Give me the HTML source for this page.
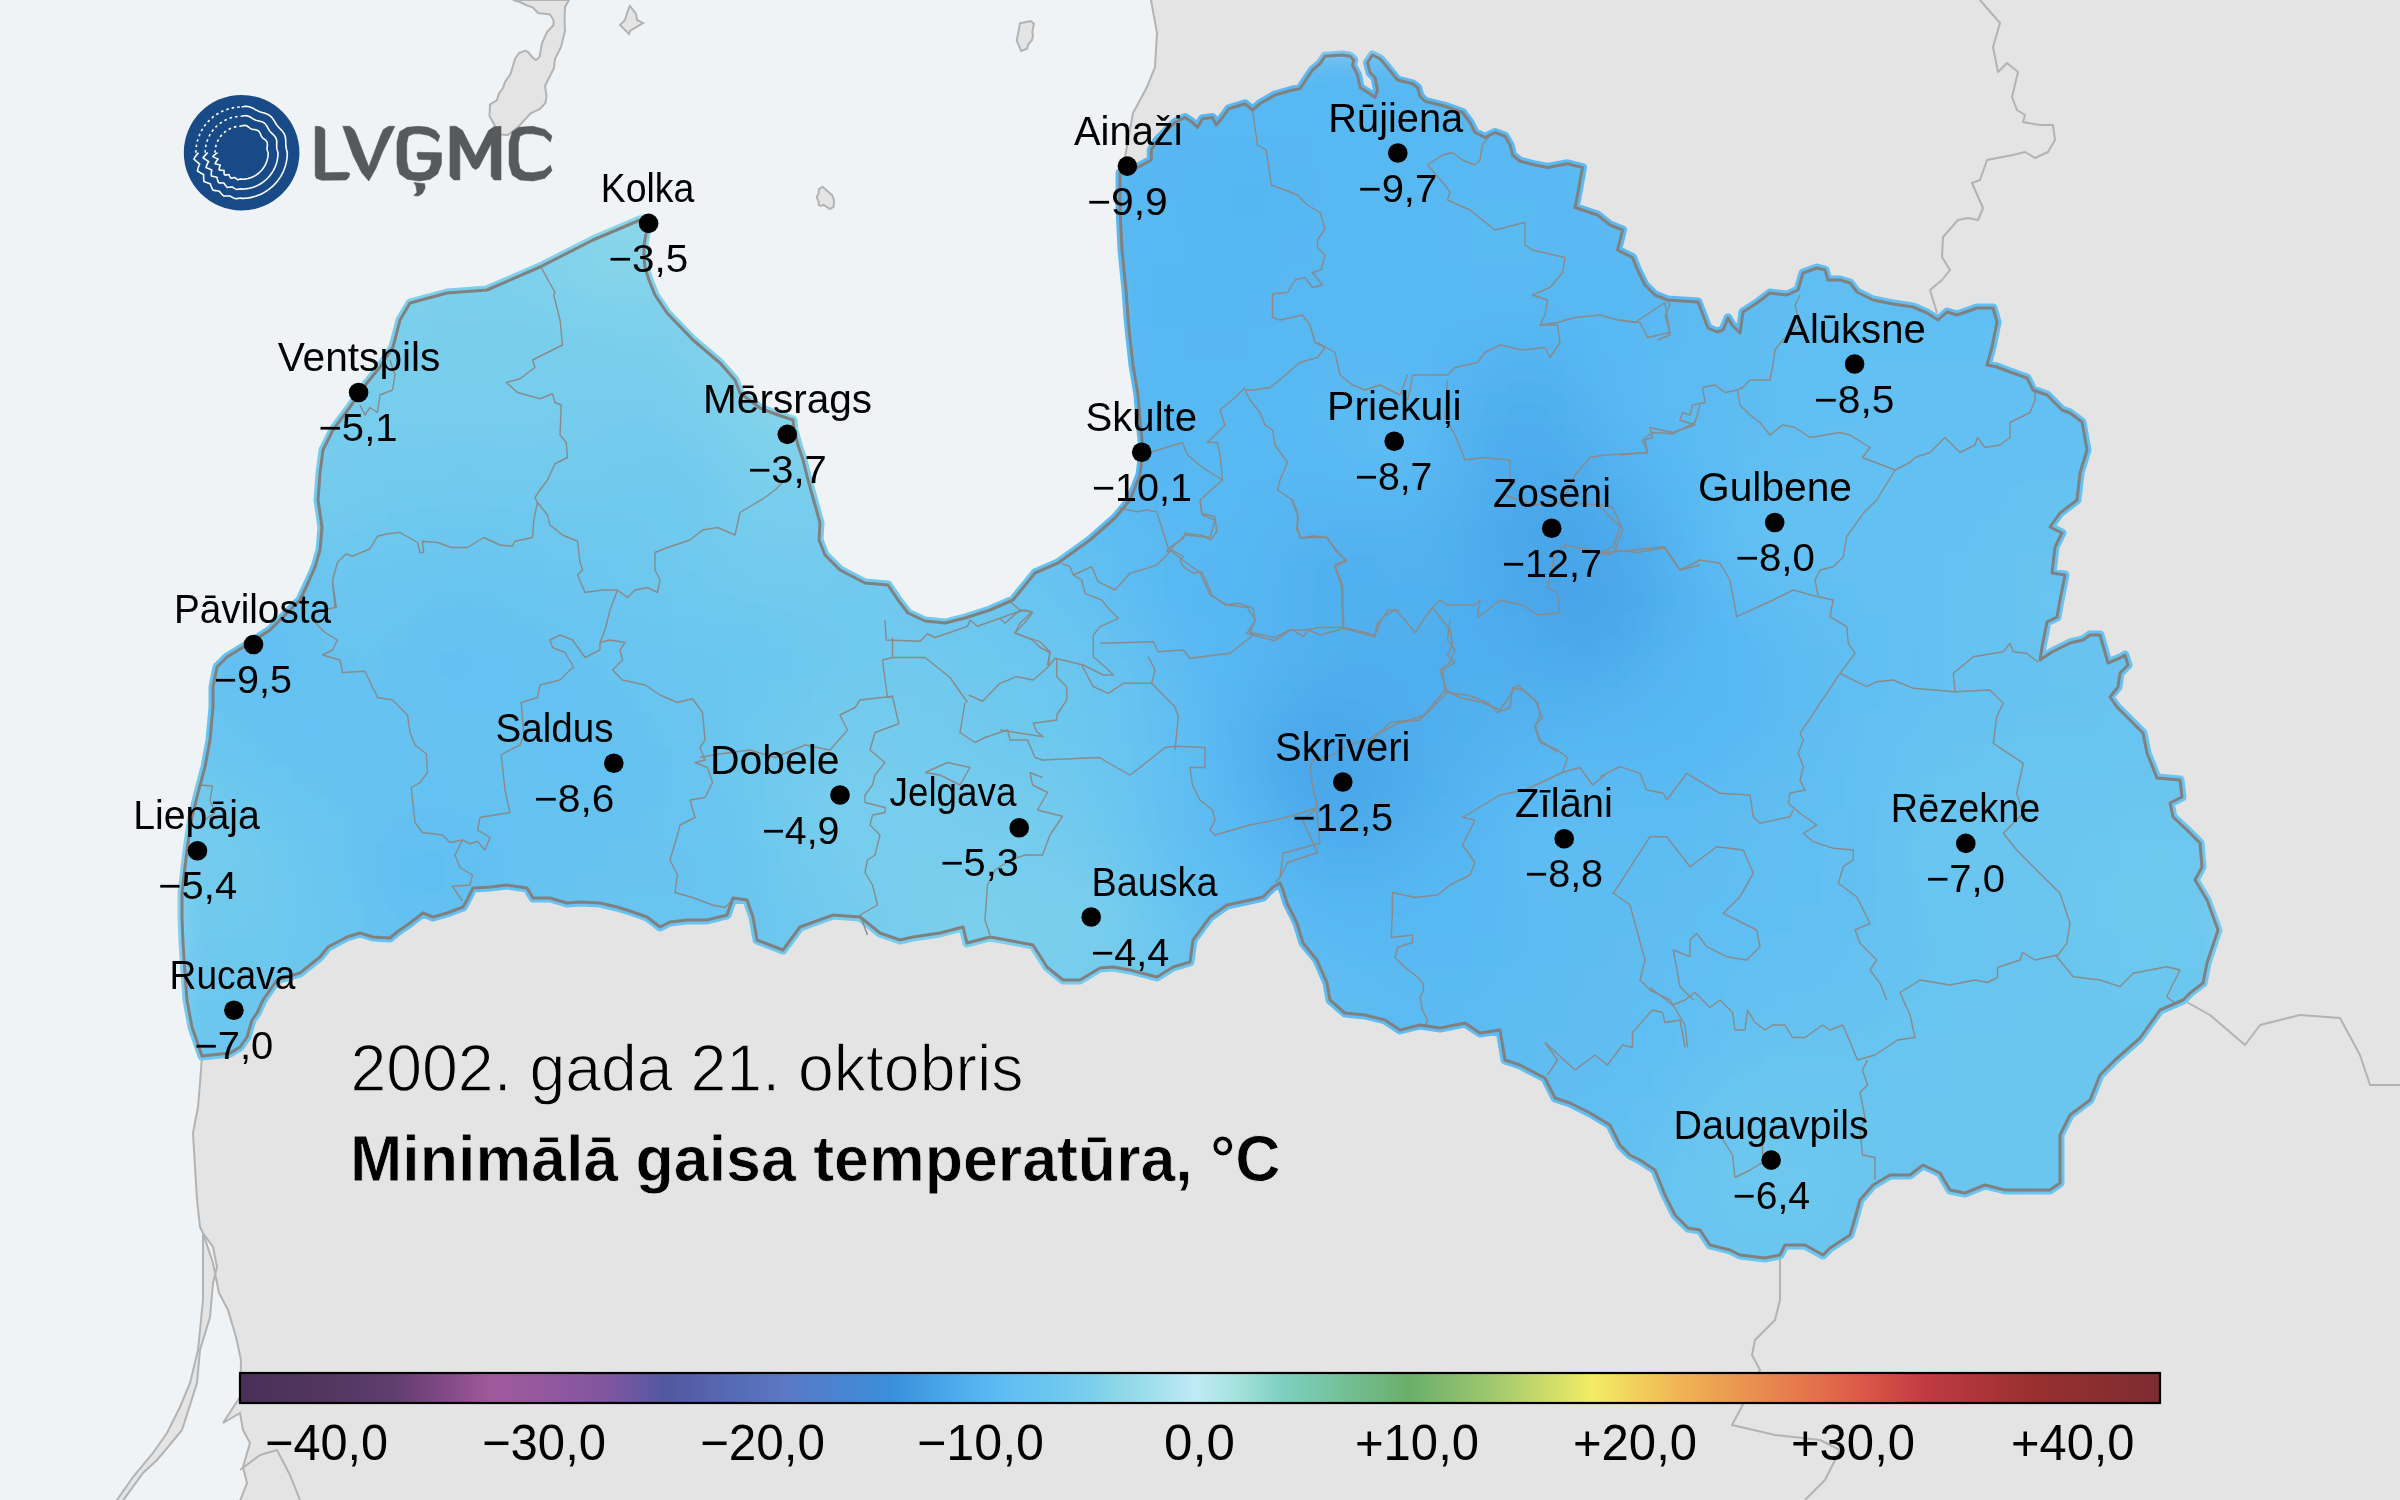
<!DOCTYPE html><html><head><meta charset="utf-8"><style>html,body{margin:0;padding:0;background:#e4e4e4}svg{display:block;will-change:transform}.f rect{width:33px;height:33px}text{font-family:"Liberation Sans",sans-serif;-webkit-font-smoothing:antialiased}</style></head><body>
<svg width="2400" height="1500" viewBox="0 0 2400 1500">
<defs><filter id="bl" x="-5%" y="-5%" width="110%" height="110%"><feGaussianBlur stdDeviation="19.2"/></filter>
<mask id="lvm" maskUnits="userSpaceOnUse" x="0" y="0" width="2400" height="1500"><polygon points="648,219 646,234 644,245 644,257 645,268 649,280 655,295 667,313 693,340 720,363 735,380 740,393 760,408 778,415 793,420 794,430 798,445 803,460 808,480 815,505 820,523 819,540 825,555 840,570 865,583 888,585 898,600 908,613 925,621 945,623 965,618 990,610 1013,600 1035,573 1058,563 1090,540 1115,518 1130,500 1140,475 1143,450 1140,420 1138,395 1133,365 1130,338 1128,318 1126,290 1122,250 1120,207 1120,173 1137.5,167.5 1151.25,160 1151.25,150 1157.5,140 1175,122.5 1185,117.5 1192.5,122.5 1197.5,127.5 1202.5,118.75 1212.5,117.5 1216.25,125 1222.5,117.5 1228.75,108.75 1245,103.75 1252.5,110 1260,103.75 1275,95 1292.5,90 1300,88.75 1312.5,70 1320,63.75 1325,56.25 1342.5,55 1350,56.25 1353.75,60 1352.5,65 1357.5,75 1360,87.5 1370,93.75 1375,97.5 1377.5,90 1375,77.5 1370,72.5 1367.5,62.5 1372.5,55 1380,58.75 1387.5,67.5 1397.5,80 1412.5,83.75 1417.5,87.5 1420,96.25 1425,101.25 1435,103.75 1445,106.25 1462.5,112.5 1470,122.5 1475,132.5 1485,137.5 1495,132.5 1505,136.25 1510,145 1512.5,155 1520,161.25 1535,165 1547.5,167.5 1567.5,163.75 1582.5,167.5 1577.5,195 1575,207.5 1582.5,210 1597.5,215 1610,225 1622.5,230 1617.5,250 1632.5,257.5 1637.5,270 1645,285 1655,295 1667.5,300 1698,302 1708,328 1717,332 1723,330 1728,318 1732,325 1740,333 1743,312 1757,303 1770,293 1787,295 1798,290 1803,273 1817,268 1825,270 1828,280 1840,280 1850,283 1857,292 1873,300 1893,304 1913,307 1927,313 1938,320 1947,312 1957,315 1977,308 1993,308 1997,322 1992,347 1987,365 1997,367 2010,372 2027,378 2033,390 2047,395 2062,410 2070,413 2082,422 2087,450 2080,473 2077,500 2060,513 2050,527 2062,533 2055,547 2052,573 2065,575 2060,600 2057,617 2047,622 2042,647 2040,660 2052,652 2070,643 2083,640 2090,635 2100,635 2108,663 2120,658 2125,655 2128,665 2120,673 2118,687 2110,697 2117,707 2130,720 2143,733 2147,753 2157,778 2180,780 2182,797 2170,803 2173,817 2187,830 2200,843 2202,867 2195,880 2207,900 2218,930 2207,963 2203,983 2190,993 2183,1000 2160,1010 2140,1038 2115,1060 2100,1075 2090,1100 2070,1115 2060,1135 2060,1183 2050,1190 2005,1190 1985,1185 1965,1193 1950,1190 1940,1173 1923,1165 1910,1175 1890,1175 1873,1185 1860,1200 1853,1225 1850,1235 1830,1248 1823,1255 1805,1245 1785,1245 1780,1255 1765,1258 1740,1255 1730,1250 1710,1245 1700,1230 1688,1228 1675,1215 1665,1195 1655,1170 1640,1160 1630,1155 1620,1145 1610,1125 1590,1113 1570,1103 1555,1098 1545,1078 1520,1065 1505,1060 1500,1030 1480,1033 1465,1023 1440,1028 1420,1025 1400,1030 1385,1020 1365,1015 1345,1013 1330,1000 1327,983 1317,960 1303,943 1297,923 1287,903 1283,890 1280,883 1273,887 1263,897 1250,900 1227,905 1210,917 1193,940 1190,962 1173,967 1157,977 1130,970 1113,967 1100,968 1080,980 1063,980 1047,967 1033,945 1007,940 990,937 967,943 963,927 940,933 913,937 900,940 880,933 860,917 833,915 800,927 783,950 770,945 757,940 753,917 747,900 733,898 727,915 707,920 687,920 670,922 660,927 647,917 633,912 617,907 600,903 580,902 567,903 550,898 533,898 527,888 507,885 490,887 473,888 467,900 463,907 447,913 433,917 423,913 410,923 397,932 390,938 373,937 360,933 347,937 328,947 320,957 300,973 277,980 263,1000 257,1013 252,1020 247,1037 240,1047 230,1053 202,1056 192,1027 187,1000 185,973 183,943 182,917 182,893 185,867 188,843 192,817 198,793 205,767 210,740 213,707 213,687 217,667 227,657 250,643 270,630 287,613 300,600 308,583 315,567 320,550 322,527 318,500 320,473 323,450 333,430 350,407 367,383 380,367 393,347 400,320 410,303 447,293 487,290 540,267 593,240 640,220" fill="#fff" stroke="#fff" stroke-width="9" stroke-linejoin="round"/></mask></defs>
<rect width="2400" height="1500" fill="#e4e4e4"/>
<polygon points="-5,-5 1150,-5 1151,0 1157,33 1155,67 1147,87 1133,113 1125,157 1120,175 1200,300 1200,700 900,800 300,850 215,1000 202,1056 200,1083 198,1107 193,1133 195,1167 197,1200 200,1227 203,1233 203,1300 198,1350 190,1383 180,1407 167,1433 153,1453 133,1477 117,1500 113,1505 -5,1505" fill="#eff3f6" stroke="#b3b3b3" stroke-width="2"/>
<polygon points="203,1233 213,1263 219,1293 228,1310 236,1337 241,1360 240,1397 223,1423 240,1413 243,1430 250,1443 243,1467 247,1483 238,1506 119,1506 143,1473 157,1460 163,1453 182,1430 197,1383 200,1350 210,1317 213,1283 217,1267 213,1247" fill="#eff3f6" stroke="#b3b3b3" stroke-width="2"/>
<polygon points="513,0 520,2 526,5 533,7.5 538,13 550,14.5 553.5,20 553.5,25 547,32 542,43 539.5,57 536,60 533,58 528,52 525.5,50.5 519,53 515,59 510.5,74 505,82 503,88 499,93.5 497,100 490,104.5 489.5,116 494,124 496,129 500,134.5 508,135 518,127 531,113 540,109 545.5,103 546.5,96 545,86 554,68 555,59 561,47 565,31 564.5,19 565,7 569,0" fill="#e4e4e4" stroke="#b3b3b3" stroke-width="2"/>
<polygon points="630,6 636,14 637,20 643,23 630,31 629,34 620,25 625,20 628,10" fill="#e4e4e4" stroke="#b3b3b3" stroke-width="2"/>
<polygon points="822.5,186.7 832.3,195.3 834,200 833.7,206.7 830,209 823.3,204.7 821,206 818.7,205 818.7,201.7 816.7,197.3 818.7,193.3 818.7,189.3" fill="#e4e4e4" stroke="#b3b3b3" stroke-width="2"/>
<polygon points="1020,23.3 1030.7,21 1034,23.7 1032.3,32.3 1033,35.3 1032,40 1028.3,44.3 1027,48.7 1021.3,51 1016.7,40.7" fill="#e4e4e4" stroke="#b3b3b3" stroke-width="2"/>
<polyline points="1980,0 2000,23 1993,47 1998,72 2007,63 2018,72 2012,97 2017,110 2025,115 2023,122 2040,125 2053,125 2055,140 2048,152 2035,158 2025,152 2013,155 1987,160 1980,180 1972,183 1983,208 1978,220 1968,218 1958,220 1943,237 1942,257 1950,270 1942,280 1930,290 1937,313" fill="none" stroke="#b3b3b3" stroke-width="2" stroke-linejoin="round"/>
<polyline points="2183,1000 2210,1015 2245,1045 2260,1025 2300,1015 2340,1018 2360,1055 2370,1085 2400,1085" fill="none" stroke="#b3b3b3" stroke-width="2" stroke-linejoin="round"/>
<polyline points="1780,1258 1780,1300 1775,1320 1755,1340 1752,1355 1760,1370 1740,1410 1732,1425 1775,1435 1820,1440 1840,1450 1825,1480 1805,1500" fill="none" stroke="#b3b3b3" stroke-width="2" stroke-linejoin="round"/>
<polyline points="240,1470 260,1455 277,1450 290,1475 300,1500" fill="none" stroke="#b3b3b3" stroke-width="2" stroke-linejoin="round"/>
<g mask="url(#lvm)"><g class="f" filter="url(#bl)"><rect x="1216" y="40" fill="#5abaf2"/><rect x="1248" y="40" fill="#5ab9f2"/><rect x="1280" y="40" fill="#5ab9f2"/><rect x="1312" y="40" fill="#5ab9f2"/><rect x="1344" y="40" fill="#5ab9f2"/><rect x="1376" y="40" fill="#5ab9f2"/><rect x="1408" y="40" fill="#5ab9f2"/><rect x="1440" y="40" fill="#5ab9f2"/><rect x="1152" y="72" fill="#59b9f2"/><rect x="1184" y="72" fill="#59b9f2"/><rect x="1216" y="72" fill="#59b9f2"/><rect x="1248" y="72" fill="#59b9f2"/><rect x="1280" y="72" fill="#59b9f2"/><rect x="1312" y="72" fill="#59b9f2"/><rect x="1344" y="72" fill="#59b8f2"/><rect x="1376" y="72" fill="#59b8f2"/><rect x="1408" y="72" fill="#59b9f2"/><rect x="1440" y="72" fill="#59b9f2"/><rect x="1472" y="72" fill="#5ab9f2"/><rect x="1504" y="72" fill="#5abaf2"/><rect x="1120" y="104" fill="#58b8f2"/><rect x="1152" y="104" fill="#58b8f2"/><rect x="1184" y="104" fill="#58b8f2"/><rect x="1216" y="104" fill="#58b8f2"/><rect x="1248" y="104" fill="#58b8f2"/><rect x="1280" y="104" fill="#58b8f2"/><rect x="1312" y="104" fill="#59b8f2"/><rect x="1344" y="104" fill="#58b8f2"/><rect x="1376" y="104" fill="#58b8f2"/><rect x="1408" y="104" fill="#59b8f2"/><rect x="1440" y="104" fill="#59b9f2"/><rect x="1472" y="104" fill="#5ab9f2"/><rect x="1504" y="104" fill="#5ab9f2"/><rect x="1536" y="104" fill="#5abaf2"/><rect x="1568" y="104" fill="#5bbaf2"/><rect x="1088" y="136" fill="#58b8f2"/><rect x="1120" y="136" fill="#57b7f2"/><rect x="1152" y="136" fill="#58b7f2"/><rect x="1184" y="136" fill="#58b7f2"/><rect x="1216" y="136" fill="#57b7f2"/><rect x="1248" y="136" fill="#57b7f2"/><rect x="1280" y="136" fill="#58b7f2"/><rect x="1312" y="136" fill="#58b8f2"/><rect x="1344" y="136" fill="#58b8f2"/><rect x="1376" y="136" fill="#58b8f2"/><rect x="1408" y="136" fill="#58b8f2"/><rect x="1440" y="136" fill="#59b8f2"/><rect x="1472" y="136" fill="#5ab9f2"/><rect x="1504" y="136" fill="#5ab9f2"/><rect x="1536" y="136" fill="#5abaf2"/><rect x="1568" y="136" fill="#5abaf2"/><rect x="1600" y="136" fill="#5bbaf2"/><rect x="608" y="168" fill="#86d4ea"/><rect x="640" y="168" fill="#87d4ea"/><rect x="1056" y="168" fill="#5ab9f2"/><rect x="1088" y="168" fill="#58b8f2"/><rect x="1120" y="168" fill="#57b7f2"/><rect x="1152" y="168" fill="#58b7f2"/><rect x="1184" y="168" fill="#57b7f2"/><rect x="1216" y="168" fill="#57b6f2"/><rect x="1248" y="168" fill="#57b6f2"/><rect x="1280" y="168" fill="#57b7f2"/><rect x="1312" y="168" fill="#58b8f2"/><rect x="1344" y="168" fill="#58b8f2"/><rect x="1376" y="168" fill="#58b8f2"/><rect x="1408" y="168" fill="#59b8f2"/><rect x="1440" y="168" fill="#59b9f2"/><rect x="1472" y="168" fill="#5ab9f2"/><rect x="1504" y="168" fill="#5ab9f2"/><rect x="1536" y="168" fill="#5ab9f2"/><rect x="1568" y="168" fill="#5abaf2"/><rect x="1600" y="168" fill="#5abaf2"/><rect x="512" y="200" fill="#7ed1eb"/><rect x="544" y="200" fill="#82d2eb"/><rect x="576" y="200" fill="#85d4ea"/><rect x="608" y="200" fill="#88d5e9"/><rect x="640" y="200" fill="#89d5e9"/><rect x="672" y="200" fill="#86d4ea"/><rect x="1056" y="200" fill="#5bbaf2"/><rect x="1088" y="200" fill="#59b9f2"/><rect x="1120" y="200" fill="#58b8f2"/><rect x="1152" y="200" fill="#58b8f2"/><rect x="1184" y="200" fill="#57b7f2"/><rect x="1216" y="200" fill="#57b6f2"/><rect x="1248" y="200" fill="#56b6f2"/><rect x="1280" y="200" fill="#57b7f2"/><rect x="1312" y="200" fill="#58b8f2"/><rect x="1344" y="200" fill="#58b8f2"/><rect x="1376" y="200" fill="#59b8f2"/><rect x="1408" y="200" fill="#59b9f2"/><rect x="1440" y="200" fill="#5ab9f2"/><rect x="1472" y="200" fill="#5abaf2"/><rect x="1504" y="200" fill="#5abaf2"/><rect x="1536" y="200" fill="#5ab9f2"/><rect x="1568" y="200" fill="#5ab9f2"/><rect x="1600" y="200" fill="#5ab9f2"/><rect x="1632" y="200" fill="#5bbaf2"/><rect x="416" y="232" fill="#7bd0ec"/><rect x="448" y="232" fill="#7acfec"/><rect x="480" y="232" fill="#7bcfec"/><rect x="512" y="232" fill="#7ed1eb"/><rect x="544" y="232" fill="#82d2eb"/><rect x="576" y="232" fill="#85d4ea"/><rect x="608" y="232" fill="#87d4ea"/><rect x="640" y="232" fill="#88d5ea"/><rect x="672" y="232" fill="#85d3ea"/><rect x="1056" y="232" fill="#5dbbf2"/><rect x="1088" y="232" fill="#5abaf2"/><rect x="1120" y="232" fill="#59b8f2"/><rect x="1152" y="232" fill="#58b8f2"/><rect x="1184" y="232" fill="#57b7f2"/><rect x="1216" y="232" fill="#57b7f2"/><rect x="1248" y="232" fill="#57b7f2"/><rect x="1280" y="232" fill="#58b7f2"/><rect x="1312" y="232" fill="#58b8f2"/><rect x="1344" y="232" fill="#59b8f2"/><rect x="1376" y="232" fill="#59b8f2"/><rect x="1408" y="232" fill="#59b9f2"/><rect x="1440" y="232" fill="#5ab9f2"/><rect x="1472" y="232" fill="#5abaf2"/><rect x="1504" y="232" fill="#5abaf2"/><rect x="1536" y="232" fill="#5ab9f2"/><rect x="1568" y="232" fill="#5ab9f2"/><rect x="1600" y="232" fill="#5ab9f2"/><rect x="1632" y="232" fill="#5abaf2"/><rect x="1664" y="232" fill="#5bbaf2"/><rect x="1760" y="232" fill="#5ebcf2"/><rect x="1792" y="232" fill="#5fbdf2"/><rect x="1824" y="232" fill="#5fbef2"/><rect x="1856" y="232" fill="#60bef2"/><rect x="352" y="264" fill="#7cd0ec"/><rect x="384" y="264" fill="#7dd0eb"/><rect x="416" y="264" fill="#7cd0ec"/><rect x="448" y="264" fill="#7acfec"/><rect x="480" y="264" fill="#7acfec"/><rect x="512" y="264" fill="#7cd0ec"/><rect x="544" y="264" fill="#80d1eb"/><rect x="576" y="264" fill="#83d3ea"/><rect x="608" y="264" fill="#84d3ea"/><rect x="640" y="264" fill="#83d3ea"/><rect x="672" y="264" fill="#81d2eb"/><rect x="1088" y="264" fill="#5bbaf2"/><rect x="1120" y="264" fill="#59b8f2"/><rect x="1152" y="264" fill="#57b7f2"/><rect x="1184" y="264" fill="#57b7f2"/><rect x="1216" y="264" fill="#57b7f2"/><rect x="1248" y="264" fill="#57b7f2"/><rect x="1280" y="264" fill="#58b8f2"/><rect x="1312" y="264" fill="#59b8f2"/><rect x="1344" y="264" fill="#59b8f2"/><rect x="1376" y="264" fill="#59b8f2"/><rect x="1408" y="264" fill="#59b9f2"/><rect x="1440" y="264" fill="#59b9f2"/><rect x="1472" y="264" fill="#5ab9f2"/><rect x="1504" y="264" fill="#5ab9f2"/><rect x="1536" y="264" fill="#59b9f2"/><rect x="1568" y="264" fill="#59b9f2"/><rect x="1600" y="264" fill="#59b9f2"/><rect x="1632" y="264" fill="#5ab9f2"/><rect x="1664" y="264" fill="#5bbaf2"/><rect x="1696" y="264" fill="#5cbbf2"/><rect x="1728" y="264" fill="#5dbcf2"/><rect x="1760" y="264" fill="#5ebdf2"/><rect x="1792" y="264" fill="#5fbef2"/><rect x="1824" y="264" fill="#60bef2"/><rect x="1856" y="264" fill="#60bff2"/><rect x="1888" y="264" fill="#61bff2"/><rect x="1920" y="264" fill="#61bff2"/><rect x="1952" y="264" fill="#61bff2"/><rect x="1984" y="264" fill="#61bff2"/><rect x="2016" y="264" fill="#61bff2"/><rect x="352" y="296" fill="#7bcfec"/><rect x="384" y="296" fill="#7cd0ec"/><rect x="416" y="296" fill="#7bcfec"/><rect x="448" y="296" fill="#7acfec"/><rect x="480" y="296" fill="#79cfec"/><rect x="512" y="296" fill="#7acfec"/><rect x="544" y="296" fill="#7cd0ec"/><rect x="576" y="296" fill="#7ed1eb"/><rect x="608" y="296" fill="#7fd1eb"/><rect x="640" y="296" fill="#7ed1eb"/><rect x="672" y="296" fill="#7dd0eb"/><rect x="704" y="296" fill="#7dd0eb"/><rect x="1088" y="296" fill="#5cbbf2"/><rect x="1120" y="296" fill="#59b9f2"/><rect x="1152" y="296" fill="#57b7f2"/><rect x="1184" y="296" fill="#57b7f2"/><rect x="1216" y="296" fill="#57b7f2"/><rect x="1248" y="296" fill="#58b7f2"/><rect x="1280" y="296" fill="#58b8f2"/><rect x="1312" y="296" fill="#59b8f2"/><rect x="1344" y="296" fill="#59b9f2"/><rect x="1376" y="296" fill="#59b8f2"/><rect x="1408" y="296" fill="#59b8f2"/><rect x="1440" y="296" fill="#58b8f2"/><rect x="1472" y="296" fill="#58b8f2"/><rect x="1504" y="296" fill="#58b8f2"/><rect x="1536" y="296" fill="#58b7f2"/><rect x="1568" y="296" fill="#58b8f2"/><rect x="1600" y="296" fill="#59b9f2"/><rect x="1632" y="296" fill="#5ab9f2"/><rect x="1664" y="296" fill="#5bbaf2"/><rect x="1696" y="296" fill="#5cbbf2"/><rect x="1728" y="296" fill="#5dbcf2"/><rect x="1760" y="296" fill="#5fbdf2"/><rect x="1792" y="296" fill="#60bef2"/><rect x="1824" y="296" fill="#61bff2"/><rect x="1856" y="296" fill="#61bff2"/><rect x="1888" y="296" fill="#61bff2"/><rect x="1920" y="296" fill="#61bff2"/><rect x="1952" y="296" fill="#61bff2"/><rect x="1984" y="296" fill="#61bff2"/><rect x="2016" y="296" fill="#61bff2"/><rect x="320" y="328" fill="#78ceec"/><rect x="352" y="328" fill="#79ceec"/><rect x="384" y="328" fill="#79cfec"/><rect x="416" y="328" fill="#79ceec"/><rect x="448" y="328" fill="#79ceec"/><rect x="480" y="328" fill="#79ceec"/><rect x="512" y="328" fill="#79ceec"/><rect x="544" y="328" fill="#79ceec"/><rect x="576" y="328" fill="#79ceec"/><rect x="608" y="328" fill="#79cfec"/><rect x="640" y="328" fill="#7acfec"/><rect x="672" y="328" fill="#7bd0ec"/><rect x="704" y="328" fill="#7ed1eb"/><rect x="736" y="328" fill="#80d2eb"/><rect x="1088" y="328" fill="#5cbbf2"/><rect x="1120" y="328" fill="#5ab9f2"/><rect x="1152" y="328" fill="#58b8f2"/><rect x="1184" y="328" fill="#58b7f2"/><rect x="1216" y="328" fill="#58b7f2"/><rect x="1248" y="328" fill="#58b8f2"/><rect x="1280" y="328" fill="#59b8f2"/><rect x="1312" y="328" fill="#59b9f2"/><rect x="1344" y="328" fill="#59b9f2"/><rect x="1376" y="328" fill="#59b9f2"/><rect x="1408" y="328" fill="#58b8f2"/><rect x="1440" y="328" fill="#57b7f2"/><rect x="1472" y="328" fill="#56b6f2"/><rect x="1504" y="328" fill="#55b5f1"/><rect x="1536" y="328" fill="#55b5f2"/><rect x="1568" y="328" fill="#57b7f2"/><rect x="1600" y="328" fill="#59b8f2"/><rect x="1632" y="328" fill="#5abaf2"/><rect x="1664" y="328" fill="#5bbaf2"/><rect x="1696" y="328" fill="#5cbbf2"/><rect x="1728" y="328" fill="#5dbcf2"/><rect x="1760" y="328" fill="#5fbdf2"/><rect x="1792" y="328" fill="#60bff2"/><rect x="1824" y="328" fill="#61bff2"/><rect x="1856" y="328" fill="#61c0f2"/><rect x="1888" y="328" fill="#61bff2"/><rect x="1920" y="328" fill="#61bff2"/><rect x="1952" y="328" fill="#61bff2"/><rect x="1984" y="328" fill="#62c0f2"/><rect x="2016" y="328" fill="#62c0f2"/><rect x="2048" y="328" fill="#62c0f2"/><rect x="320" y="360" fill="#77ceec"/><rect x="352" y="360" fill="#78ceec"/><rect x="384" y="360" fill="#78ceec"/><rect x="416" y="360" fill="#78ceec"/><rect x="448" y="360" fill="#78ceec"/><rect x="480" y="360" fill="#78ceec"/><rect x="512" y="360" fill="#78ceec"/><rect x="544" y="360" fill="#77cdec"/><rect x="576" y="360" fill="#77cded"/><rect x="608" y="360" fill="#77cded"/><rect x="640" y="360" fill="#78ceec"/><rect x="672" y="360" fill="#7acfec"/><rect x="704" y="360" fill="#7fd1eb"/><rect x="736" y="360" fill="#82d2eb"/><rect x="768" y="360" fill="#81d2eb"/><rect x="800" y="360" fill="#7ed1eb"/><rect x="1088" y="360" fill="#5bbbf2"/><rect x="1120" y="360" fill="#5ab9f2"/><rect x="1152" y="360" fill="#59b8f2"/><rect x="1184" y="360" fill="#58b8f2"/><rect x="1216" y="360" fill="#59b8f2"/><rect x="1248" y="360" fill="#59b8f2"/><rect x="1280" y="360" fill="#59b9f2"/><rect x="1312" y="360" fill="#5ab9f2"/><rect x="1344" y="360" fill="#5ab9f2"/><rect x="1376" y="360" fill="#5ab9f2"/><rect x="1408" y="360" fill="#58b8f2"/><rect x="1440" y="360" fill="#56b5f2"/><rect x="1472" y="360" fill="#53b3f0"/><rect x="1504" y="360" fill="#52b1ef"/><rect x="1536" y="360" fill="#53b2f0"/><rect x="1568" y="360" fill="#55b5f2"/><rect x="1600" y="360" fill="#59b8f2"/><rect x="1632" y="360" fill="#5bbaf2"/><rect x="1664" y="360" fill="#5cbbf2"/><rect x="1696" y="360" fill="#5cbbf2"/><rect x="1728" y="360" fill="#5dbcf2"/><rect x="1760" y="360" fill="#5fbef2"/><rect x="1792" y="360" fill="#61bff2"/><rect x="1824" y="360" fill="#61bff2"/><rect x="1856" y="360" fill="#62c0f2"/><rect x="1888" y="360" fill="#62c0f2"/><rect x="1920" y="360" fill="#62c0f2"/><rect x="1952" y="360" fill="#62c0f2"/><rect x="1984" y="360" fill="#62c0f2"/><rect x="2016" y="360" fill="#62c0f2"/><rect x="2048" y="360" fill="#62c0f2"/><rect x="2080" y="360" fill="#62c0f2"/><rect x="288" y="392" fill="#75cced"/><rect x="320" y="392" fill="#77cded"/><rect x="352" y="392" fill="#77cdec"/><rect x="384" y="392" fill="#77cded"/><rect x="416" y="392" fill="#76cded"/><rect x="448" y="392" fill="#76cded"/><rect x="480" y="392" fill="#76cded"/><rect x="512" y="392" fill="#76cded"/><rect x="544" y="392" fill="#76cced"/><rect x="576" y="392" fill="#75cced"/><rect x="608" y="392" fill="#75cced"/><rect x="640" y="392" fill="#75cced"/><rect x="672" y="392" fill="#78ceec"/><rect x="704" y="392" fill="#7cd0ec"/><rect x="736" y="392" fill="#81d2eb"/><rect x="768" y="392" fill="#83d3ea"/><rect x="800" y="392" fill="#80d2eb"/><rect x="1088" y="392" fill="#5ab9f2"/><rect x="1120" y="392" fill="#58b8f2"/><rect x="1152" y="392" fill="#58b8f2"/><rect x="1184" y="392" fill="#59b8f2"/><rect x="1216" y="392" fill="#59b8f2"/><rect x="1248" y="392" fill="#59b9f2"/><rect x="1280" y="392" fill="#59b9f2"/><rect x="1312" y="392" fill="#5abaf2"/><rect x="1344" y="392" fill="#5bbaf2"/><rect x="1376" y="392" fill="#5bbbf2"/><rect x="1408" y="392" fill="#59b9f2"/><rect x="1440" y="392" fill="#55b5f1"/><rect x="1472" y="392" fill="#51b0ef"/><rect x="1504" y="392" fill="#4faeed"/><rect x="1536" y="392" fill="#50afee"/><rect x="1568" y="392" fill="#54b3f0"/><rect x="1600" y="392" fill="#58b8f2"/><rect x="1632" y="392" fill="#5bbaf2"/><rect x="1664" y="392" fill="#5bbbf2"/><rect x="1696" y="392" fill="#5cbbf2"/><rect x="1728" y="392" fill="#5dbcf2"/><rect x="1760" y="392" fill="#5fbef2"/><rect x="1792" y="392" fill="#61bff2"/><rect x="1824" y="392" fill="#61bff2"/><rect x="1856" y="392" fill="#62c0f2"/><rect x="1888" y="392" fill="#62c0f2"/><rect x="1920" y="392" fill="#62c0f2"/><rect x="1952" y="392" fill="#62c0f2"/><rect x="1984" y="392" fill="#62c0f2"/><rect x="2016" y="392" fill="#63c0f2"/><rect x="2048" y="392" fill="#63c0f2"/><rect x="2080" y="392" fill="#63c1f2"/><rect x="2112" y="392" fill="#63c1f2"/><rect x="288" y="424" fill="#74cbed"/><rect x="320" y="424" fill="#75cced"/><rect x="352" y="424" fill="#75cced"/><rect x="384" y="424" fill="#75cced"/><rect x="416" y="424" fill="#74cced"/><rect x="448" y="424" fill="#74cbed"/><rect x="480" y="424" fill="#74cced"/><rect x="512" y="424" fill="#74cced"/><rect x="544" y="424" fill="#74cced"/><rect x="576" y="424" fill="#74cced"/><rect x="608" y="424" fill="#73cbed"/><rect x="640" y="424" fill="#72cbed"/><rect x="672" y="424" fill="#74cced"/><rect x="704" y="424" fill="#78ceec"/><rect x="736" y="424" fill="#7ed1eb"/><rect x="768" y="424" fill="#82d2ea"/><rect x="800" y="424" fill="#80d2eb"/><rect x="832" y="424" fill="#7acfec"/><rect x="1088" y="424" fill="#59b9f2"/><rect x="1120" y="424" fill="#57b7f2"/><rect x="1152" y="424" fill="#57b7f2"/><rect x="1184" y="424" fill="#58b8f2"/><rect x="1216" y="424" fill="#59b8f2"/><rect x="1248" y="424" fill="#59b8f2"/><rect x="1280" y="424" fill="#59b9f2"/><rect x="1312" y="424" fill="#5ab9f2"/><rect x="1344" y="424" fill="#5cbbf2"/><rect x="1376" y="424" fill="#5cbbf2"/><rect x="1408" y="424" fill="#5ab9f2"/><rect x="1440" y="424" fill="#54b4f1"/><rect x="1472" y="424" fill="#50aeee"/><rect x="1504" y="424" fill="#4eacec"/><rect x="1536" y="424" fill="#4faded"/><rect x="1568" y="424" fill="#51b0ef"/><rect x="1600" y="424" fill="#55b5f2"/><rect x="1632" y="424" fill="#59b8f2"/><rect x="1664" y="424" fill="#5abaf2"/><rect x="1696" y="424" fill="#5cbbf2"/><rect x="1728" y="424" fill="#5ebdf2"/><rect x="1760" y="424" fill="#60bef2"/><rect x="1792" y="424" fill="#61bff2"/><rect x="1824" y="424" fill="#62c0f2"/><rect x="1856" y="424" fill="#62c0f2"/><rect x="1888" y="424" fill="#62c0f2"/><rect x="1920" y="424" fill="#63c0f2"/><rect x="1952" y="424" fill="#63c0f2"/><rect x="1984" y="424" fill="#63c1f2"/><rect x="2016" y="424" fill="#63c1f2"/><rect x="2048" y="424" fill="#63c1f2"/><rect x="2080" y="424" fill="#63c1f2"/><rect x="2112" y="424" fill="#64c1f1"/><rect x="256" y="456" fill="#71caed"/><rect x="288" y="456" fill="#73cbed"/><rect x="320" y="456" fill="#74cbed"/><rect x="352" y="456" fill="#73cbed"/><rect x="384" y="456" fill="#72caed"/><rect x="416" y="456" fill="#72caed"/><rect x="448" y="456" fill="#71caed"/><rect x="480" y="456" fill="#72caed"/><rect x="512" y="456" fill="#72caed"/><rect x="544" y="456" fill="#72caed"/><rect x="576" y="456" fill="#72caed"/><rect x="608" y="456" fill="#71caee"/><rect x="640" y="456" fill="#70c9ee"/><rect x="672" y="456" fill="#71caed"/><rect x="704" y="456" fill="#75cced"/><rect x="736" y="456" fill="#79cfec"/><rect x="768" y="456" fill="#7cd0ec"/><rect x="800" y="456" fill="#7bcfec"/><rect x="832" y="456" fill="#78ceec"/><rect x="1088" y="456" fill="#5ab9f2"/><rect x="1120" y="456" fill="#58b7f2"/><rect x="1152" y="456" fill="#58b7f2"/><rect x="1184" y="456" fill="#58b8f2"/><rect x="1216" y="456" fill="#58b8f2"/><rect x="1248" y="456" fill="#58b8f2"/><rect x="1280" y="456" fill="#58b8f2"/><rect x="1312" y="456" fill="#58b8f2"/><rect x="1344" y="456" fill="#5ab9f2"/><rect x="1376" y="456" fill="#5abaf2"/><rect x="1408" y="456" fill="#58b8f2"/><rect x="1440" y="456" fill="#54b3f0"/><rect x="1472" y="456" fill="#50aeee"/><rect x="1504" y="456" fill="#4dabec"/><rect x="1536" y="456" fill="#4dabec"/><rect x="1568" y="456" fill="#4faded"/><rect x="1600" y="456" fill="#52b1ef"/><rect x="1632" y="456" fill="#55b5f2"/><rect x="1664" y="456" fill="#59b8f2"/><rect x="1696" y="456" fill="#5cbbf2"/><rect x="1728" y="456" fill="#5fbef2"/><rect x="1760" y="456" fill="#61bff2"/><rect x="1792" y="456" fill="#62c0f2"/><rect x="1824" y="456" fill="#62c0f2"/><rect x="1856" y="456" fill="#63c0f2"/><rect x="1888" y="456" fill="#63c1f2"/><rect x="1920" y="456" fill="#63c1f2"/><rect x="1952" y="456" fill="#63c1f2"/><rect x="1984" y="456" fill="#63c1f2"/><rect x="2016" y="456" fill="#64c1f1"/><rect x="2048" y="456" fill="#64c1f1"/><rect x="2080" y="456" fill="#64c1f1"/><rect x="2112" y="456" fill="#64c1f1"/><rect x="256" y="488" fill="#70c9ee"/><rect x="288" y="488" fill="#72caed"/><rect x="320" y="488" fill="#73cbed"/><rect x="352" y="488" fill="#71caed"/><rect x="384" y="488" fill="#70c9ee"/><rect x="416" y="488" fill="#6fc9ee"/><rect x="448" y="488" fill="#6fc8ee"/><rect x="480" y="488" fill="#6fc9ee"/><rect x="512" y="488" fill="#6fc9ee"/><rect x="544" y="488" fill="#70c9ee"/><rect x="576" y="488" fill="#70c9ee"/><rect x="608" y="488" fill="#6fc9ee"/><rect x="640" y="488" fill="#6fc9ee"/><rect x="672" y="488" fill="#70c9ee"/><rect x="704" y="488" fill="#73cbed"/><rect x="736" y="488" fill="#76cded"/><rect x="768" y="488" fill="#77cdec"/><rect x="800" y="488" fill="#77cded"/><rect x="832" y="488" fill="#75cced"/><rect x="1056" y="488" fill="#60bef2"/><rect x="1088" y="488" fill="#5cbbf2"/><rect x="1120" y="488" fill="#5ab9f2"/><rect x="1152" y="488" fill="#59b8f2"/><rect x="1184" y="488" fill="#59b8f2"/><rect x="1216" y="488" fill="#58b8f2"/><rect x="1248" y="488" fill="#57b7f2"/><rect x="1280" y="488" fill="#56b6f2"/><rect x="1312" y="488" fill="#56b6f2"/><rect x="1344" y="488" fill="#56b6f2"/><rect x="1376" y="488" fill="#56b6f2"/><rect x="1408" y="488" fill="#55b5f1"/><rect x="1440" y="488" fill="#52b1ef"/><rect x="1472" y="488" fill="#4faced"/><rect x="1504" y="488" fill="#4ba8ea"/><rect x="1536" y="488" fill="#4aa6e9"/><rect x="1568" y="488" fill="#4ba8ea"/><rect x="1600" y="488" fill="#4faded"/><rect x="1632" y="488" fill="#53b2f0"/><rect x="1664" y="488" fill="#57b7f2"/><rect x="1696" y="488" fill="#5cbbf2"/><rect x="1728" y="488" fill="#61bff2"/><rect x="1760" y="488" fill="#63c0f2"/><rect x="1792" y="488" fill="#63c0f2"/><rect x="1824" y="488" fill="#63c0f2"/><rect x="1856" y="488" fill="#63c1f2"/><rect x="1888" y="488" fill="#63c1f2"/><rect x="1920" y="488" fill="#63c1f2"/><rect x="1952" y="488" fill="#63c1f2"/><rect x="1984" y="488" fill="#64c1f1"/><rect x="2016" y="488" fill="#65c2f1"/><rect x="2048" y="488" fill="#65c2f1"/><rect x="2080" y="488" fill="#65c2f1"/><rect x="2112" y="488" fill="#65c2f1"/><rect x="256" y="520" fill="#6dc7ee"/><rect x="288" y="520" fill="#6ec8ee"/><rect x="320" y="520" fill="#6fc9ee"/><rect x="352" y="520" fill="#6ec8ee"/><rect x="384" y="520" fill="#6dc7ee"/><rect x="416" y="520" fill="#6cc7ef"/><rect x="448" y="520" fill="#6cc7ef"/><rect x="480" y="520" fill="#6cc7ef"/><rect x="512" y="520" fill="#6dc7ee"/><rect x="544" y="520" fill="#6ec8ee"/><rect x="576" y="520" fill="#6ec8ee"/><rect x="608" y="520" fill="#6ec8ee"/><rect x="640" y="520" fill="#6fc9ee"/><rect x="672" y="520" fill="#70c9ee"/><rect x="704" y="520" fill="#72cbed"/><rect x="736" y="520" fill="#75cced"/><rect x="768" y="520" fill="#75cced"/><rect x="800" y="520" fill="#75cced"/><rect x="832" y="520" fill="#73cbed"/><rect x="864" y="520" fill="#71caed"/><rect x="992" y="520" fill="#67c4f0"/><rect x="1024" y="520" fill="#65c2f1"/><rect x="1056" y="520" fill="#62c0f2"/><rect x="1088" y="520" fill="#5ebdf2"/><rect x="1120" y="520" fill="#5cbbf2"/><rect x="1152" y="520" fill="#5ab9f2"/><rect x="1184" y="520" fill="#58b8f2"/><rect x="1216" y="520" fill="#57b7f2"/><rect x="1248" y="520" fill="#56b6f2"/><rect x="1280" y="520" fill="#54b4f1"/><rect x="1312" y="520" fill="#53b2f0"/><rect x="1344" y="520" fill="#53b2f0"/><rect x="1376" y="520" fill="#53b3f0"/><rect x="1408" y="520" fill="#53b2f0"/><rect x="1440" y="520" fill="#51afee"/><rect x="1472" y="520" fill="#4dabec"/><rect x="1504" y="520" fill="#4aa7e9"/><rect x="1536" y="520" fill="#48a4e8"/><rect x="1568" y="520" fill="#49a6e9"/><rect x="1600" y="520" fill="#4caaeb"/><rect x="1632" y="520" fill="#51afee"/><rect x="1664" y="520" fill="#55b5f2"/><rect x="1696" y="520" fill="#5cbbf2"/><rect x="1728" y="520" fill="#61bff2"/><rect x="1760" y="520" fill="#63c0f2"/><rect x="1792" y="520" fill="#63c0f2"/><rect x="1824" y="520" fill="#62c0f2"/><rect x="1856" y="520" fill="#63c1f2"/><rect x="1888" y="520" fill="#63c1f2"/><rect x="1920" y="520" fill="#63c1f2"/><rect x="1952" y="520" fill="#64c1f1"/><rect x="1984" y="520" fill="#65c2f1"/><rect x="2016" y="520" fill="#66c2f1"/><rect x="2048" y="520" fill="#66c3f1"/><rect x="2080" y="520" fill="#66c3f1"/><rect x="256" y="552" fill="#69c5f0"/><rect x="288" y="552" fill="#6bc6ef"/><rect x="320" y="552" fill="#6cc6ef"/><rect x="352" y="552" fill="#6bc6ef"/><rect x="384" y="552" fill="#6bc6ef"/><rect x="416" y="552" fill="#6ac5ef"/><rect x="448" y="552" fill="#69c5f0"/><rect x="480" y="552" fill="#6ac5ef"/><rect x="512" y="552" fill="#6bc6ef"/><rect x="544" y="552" fill="#6cc6ef"/><rect x="576" y="552" fill="#6cc7ef"/><rect x="608" y="552" fill="#6dc7ee"/><rect x="640" y="552" fill="#6ec8ee"/><rect x="672" y="552" fill="#6fc9ee"/><rect x="704" y="552" fill="#71caee"/><rect x="736" y="552" fill="#73cbed"/><rect x="768" y="552" fill="#74cbed"/><rect x="800" y="552" fill="#73cbed"/><rect x="832" y="552" fill="#72caed"/><rect x="864" y="552" fill="#70c9ee"/><rect x="896" y="552" fill="#6ec8ee"/><rect x="960" y="552" fill="#6bc6ef"/><rect x="992" y="552" fill="#69c4f0"/><rect x="1024" y="552" fill="#66c3f1"/><rect x="1056" y="552" fill="#64c1f1"/><rect x="1088" y="552" fill="#60bff2"/><rect x="1120" y="552" fill="#5cbbf2"/><rect x="1152" y="552" fill="#59b9f2"/><rect x="1184" y="552" fill="#58b7f2"/><rect x="1216" y="552" fill="#57b7f2"/><rect x="1248" y="552" fill="#55b5f2"/><rect x="1280" y="552" fill="#53b2f0"/><rect x="1312" y="552" fill="#51b0ef"/><rect x="1344" y="552" fill="#51b0ef"/><rect x="1376" y="552" fill="#52b1ef"/><rect x="1408" y="552" fill="#52b0ef"/><rect x="1440" y="552" fill="#50afee"/><rect x="1472" y="552" fill="#4eabec"/><rect x="1504" y="552" fill="#4ba7ea"/><rect x="1536" y="552" fill="#49a5e9"/><rect x="1568" y="552" fill="#49a5e8"/><rect x="1600" y="552" fill="#4ba7ea"/><rect x="1632" y="552" fill="#4faded"/><rect x="1664" y="552" fill="#54b3f1"/><rect x="1696" y="552" fill="#5ab9f2"/><rect x="1728" y="552" fill="#5ebdf2"/><rect x="1760" y="552" fill="#61bff2"/><rect x="1792" y="552" fill="#62c0f2"/><rect x="1824" y="552" fill="#62c0f2"/><rect x="1856" y="552" fill="#62c0f2"/><rect x="1888" y="552" fill="#63c1f2"/><rect x="1920" y="552" fill="#63c1f2"/><rect x="1952" y="552" fill="#64c2f1"/><rect x="1984" y="552" fill="#66c2f1"/><rect x="2016" y="552" fill="#67c3f0"/><rect x="2048" y="552" fill="#67c3f0"/><rect x="2080" y="552" fill="#67c3f0"/><rect x="224" y="584" fill="#64c1f1"/><rect x="256" y="584" fill="#65c2f1"/><rect x="288" y="584" fill="#68c4f0"/><rect x="320" y="584" fill="#6ac5ef"/><rect x="352" y="584" fill="#6ac5ef"/><rect x="384" y="584" fill="#69c4f0"/><rect x="416" y="584" fill="#67c3f0"/><rect x="448" y="584" fill="#66c3f1"/><rect x="480" y="584" fill="#67c3f0"/><rect x="512" y="584" fill="#68c4f0"/><rect x="544" y="584" fill="#69c5f0"/><rect x="576" y="584" fill="#6ac6ef"/><rect x="608" y="584" fill="#6cc6ef"/><rect x="640" y="584" fill="#6cc7ef"/><rect x="672" y="584" fill="#6dc7ee"/><rect x="704" y="584" fill="#6ec8ee"/><rect x="736" y="584" fill="#6fc9ee"/><rect x="768" y="584" fill="#70c9ee"/><rect x="800" y="584" fill="#71caee"/><rect x="832" y="584" fill="#70c9ee"/><rect x="864" y="584" fill="#6fc9ee"/><rect x="896" y="584" fill="#6ec8ee"/><rect x="928" y="584" fill="#6dc7ee"/><rect x="960" y="584" fill="#6cc6ef"/><rect x="992" y="584" fill="#6ac5ef"/><rect x="1024" y="584" fill="#68c4f0"/><rect x="1056" y="584" fill="#66c2f1"/><rect x="1088" y="584" fill="#62c0f2"/><rect x="1120" y="584" fill="#5dbcf2"/><rect x="1152" y="584" fill="#59b9f2"/><rect x="1184" y="584" fill="#57b7f2"/><rect x="1216" y="584" fill="#56b6f2"/><rect x="1248" y="584" fill="#55b5f1"/><rect x="1280" y="584" fill="#53b2f0"/><rect x="1312" y="584" fill="#51b0ef"/><rect x="1344" y="584" fill="#51afee"/><rect x="1376" y="584" fill="#51b0ef"/><rect x="1408" y="584" fill="#51b0ef"/><rect x="1440" y="584" fill="#50afee"/><rect x="1472" y="584" fill="#4eaced"/><rect x="1504" y="584" fill="#4ca9eb"/><rect x="1536" y="584" fill="#49a5e9"/><rect x="1568" y="584" fill="#48a4e8"/><rect x="1600" y="584" fill="#4aa6e9"/><rect x="1632" y="584" fill="#4eacec"/><rect x="1664" y="584" fill="#53b2f0"/><rect x="1696" y="584" fill="#58b7f2"/><rect x="1728" y="584" fill="#5cbbf2"/><rect x="1760" y="584" fill="#5ebdf2"/><rect x="1792" y="584" fill="#60bef2"/><rect x="1824" y="584" fill="#61bff2"/><rect x="1856" y="584" fill="#62c0f2"/><rect x="1888" y="584" fill="#63c0f2"/><rect x="1920" y="584" fill="#63c1f2"/><rect x="1952" y="584" fill="#65c2f1"/><rect x="1984" y="584" fill="#66c3f1"/><rect x="2016" y="584" fill="#67c3f0"/><rect x="2048" y="584" fill="#67c4f0"/><rect x="2080" y="584" fill="#67c3f0"/><rect x="2112" y="584" fill="#66c3f1"/><rect x="192" y="616" fill="#63c1f2"/><rect x="224" y="616" fill="#61bff2"/><rect x="256" y="616" fill="#62c0f2"/><rect x="288" y="616" fill="#66c2f1"/><rect x="320" y="616" fill="#68c4f0"/><rect x="352" y="616" fill="#68c4f0"/><rect x="384" y="616" fill="#67c3f0"/><rect x="416" y="616" fill="#65c2f1"/><rect x="448" y="616" fill="#64c1f1"/><rect x="480" y="616" fill="#65c2f1"/><rect x="512" y="616" fill="#66c3f1"/><rect x="544" y="616" fill="#67c3f0"/><rect x="576" y="616" fill="#68c4f0"/><rect x="608" y="616" fill="#6ac5ef"/><rect x="640" y="616" fill="#6bc6ef"/><rect x="672" y="616" fill="#6cc6ef"/><rect x="704" y="616" fill="#6cc7ef"/><rect x="736" y="616" fill="#6cc7ef"/><rect x="768" y="616" fill="#6dc7ee"/><rect x="800" y="616" fill="#6fc8ee"/><rect x="832" y="616" fill="#6fc9ee"/><rect x="864" y="616" fill="#70c9ee"/><rect x="896" y="616" fill="#6fc9ee"/><rect x="928" y="616" fill="#6ec8ee"/><rect x="960" y="616" fill="#6dc7ee"/><rect x="992" y="616" fill="#6bc6ef"/><rect x="1024" y="616" fill="#6ac5ef"/><rect x="1056" y="616" fill="#68c4f0"/><rect x="1088" y="616" fill="#65c2f1"/><rect x="1120" y="616" fill="#60bef2"/><rect x="1152" y="616" fill="#5bbaf2"/><rect x="1184" y="616" fill="#58b8f2"/><rect x="1216" y="616" fill="#57b7f2"/><rect x="1248" y="616" fill="#55b5f1"/><rect x="1280" y="616" fill="#53b2f0"/><rect x="1312" y="616" fill="#51b0ef"/><rect x="1344" y="616" fill="#51afee"/><rect x="1376" y="616" fill="#51afee"/><rect x="1408" y="616" fill="#51afee"/><rect x="1440" y="616" fill="#50afee"/><rect x="1472" y="616" fill="#4faded"/><rect x="1504" y="616" fill="#4dabec"/><rect x="1536" y="616" fill="#4ba8ea"/><rect x="1568" y="616" fill="#4aa6e9"/><rect x="1600" y="616" fill="#4ba8ea"/><rect x="1632" y="616" fill="#50aeee"/><rect x="1664" y="616" fill="#54b3f0"/><rect x="1696" y="616" fill="#57b7f2"/><rect x="1728" y="616" fill="#59b9f2"/><rect x="1760" y="616" fill="#5cbbf2"/><rect x="1792" y="616" fill="#5ebdf2"/><rect x="1824" y="616" fill="#60bef2"/><rect x="1856" y="616" fill="#61bff2"/><rect x="1888" y="616" fill="#62c0f2"/><rect x="1920" y="616" fill="#63c1f2"/><rect x="1952" y="616" fill="#65c2f1"/><rect x="1984" y="616" fill="#66c3f1"/><rect x="2016" y="616" fill="#67c3f0"/><rect x="2048" y="616" fill="#67c3f0"/><rect x="2080" y="616" fill="#67c3f0"/><rect x="2112" y="616" fill="#67c3f0"/><rect x="2144" y="616" fill="#66c3f1"/><rect x="160" y="648" fill="#66c3f1"/><rect x="192" y="648" fill="#64c1f1"/><rect x="224" y="648" fill="#62c0f2"/><rect x="256" y="648" fill="#62c0f2"/><rect x="288" y="648" fill="#65c2f1"/><rect x="320" y="648" fill="#66c3f1"/><rect x="352" y="648" fill="#67c3f0"/><rect x="384" y="648" fill="#66c2f1"/><rect x="416" y="648" fill="#64c1f1"/><rect x="448" y="648" fill="#63c1f2"/><rect x="480" y="648" fill="#64c2f1"/><rect x="512" y="648" fill="#65c2f1"/><rect x="544" y="648" fill="#65c2f1"/><rect x="576" y="648" fill="#66c3f1"/><rect x="608" y="648" fill="#68c4f0"/><rect x="640" y="648" fill="#69c5f0"/><rect x="672" y="648" fill="#6bc6ef"/><rect x="704" y="648" fill="#6bc6ef"/><rect x="736" y="648" fill="#6bc6ef"/><rect x="768" y="648" fill="#6cc7ef"/><rect x="800" y="648" fill="#6ec8ee"/><rect x="832" y="648" fill="#70c9ee"/><rect x="864" y="648" fill="#70c9ee"/><rect x="896" y="648" fill="#70c9ee"/><rect x="928" y="648" fill="#6fc9ee"/><rect x="960" y="648" fill="#6ec8ee"/><rect x="992" y="648" fill="#6dc7ee"/><rect x="1024" y="648" fill="#6cc7ef"/><rect x="1056" y="648" fill="#6ac6ef"/><rect x="1088" y="648" fill="#67c3f0"/><rect x="1120" y="648" fill="#63c1f2"/><rect x="1152" y="648" fill="#5ebcf2"/><rect x="1184" y="648" fill="#5ab9f2"/><rect x="1216" y="648" fill="#57b7f2"/><rect x="1248" y="648" fill="#54b4f1"/><rect x="1280" y="648" fill="#52b1ef"/><rect x="1312" y="648" fill="#51afee"/><rect x="1344" y="648" fill="#50aeee"/><rect x="1376" y="648" fill="#50aeee"/><rect x="1408" y="648" fill="#50aeee"/><rect x="1440" y="648" fill="#50afee"/><rect x="1472" y="648" fill="#50afee"/><rect x="1504" y="648" fill="#4faded"/><rect x="1536" y="648" fill="#4eacec"/><rect x="1568" y="648" fill="#4eabec"/><rect x="1600" y="648" fill="#4faeed"/><rect x="1632" y="648" fill="#53b2f0"/><rect x="1664" y="648" fill="#55b5f2"/><rect x="1696" y="648" fill="#57b7f2"/><rect x="1728" y="648" fill="#59b8f2"/><rect x="1760" y="648" fill="#5bbaf2"/><rect x="1792" y="648" fill="#5dbcf2"/><rect x="1824" y="648" fill="#5fbdf2"/><rect x="1856" y="648" fill="#61bff2"/><rect x="1888" y="648" fill="#62c0f2"/><rect x="1920" y="648" fill="#64c1f1"/><rect x="1952" y="648" fill="#65c2f1"/><rect x="1984" y="648" fill="#66c2f1"/><rect x="2016" y="648" fill="#66c3f1"/><rect x="2048" y="648" fill="#67c3f0"/><rect x="2080" y="648" fill="#67c3f0"/><rect x="2112" y="648" fill="#67c3f0"/><rect x="2144" y="648" fill="#66c3f1"/><rect x="160" y="680" fill="#68c4f0"/><rect x="192" y="680" fill="#66c3f1"/><rect x="224" y="680" fill="#65c2f1"/><rect x="256" y="680" fill="#64c1f1"/><rect x="288" y="680" fill="#65c2f1"/><rect x="320" y="680" fill="#65c2f1"/><rect x="352" y="680" fill="#66c3f1"/><rect x="384" y="680" fill="#65c2f1"/><rect x="416" y="680" fill="#65c2f1"/><rect x="448" y="680" fill="#64c1f1"/><rect x="480" y="680" fill="#64c2f1"/><rect x="512" y="680" fill="#64c2f1"/><rect x="544" y="680" fill="#64c2f1"/><rect x="576" y="680" fill="#65c2f1"/><rect x="608" y="680" fill="#66c3f1"/><rect x="640" y="680" fill="#68c4f0"/><rect x="672" y="680" fill="#6ac5ef"/><rect x="704" y="680" fill="#6bc6ef"/><rect x="736" y="680" fill="#6cc7ef"/><rect x="768" y="680" fill="#6dc7ee"/><rect x="800" y="680" fill="#6fc9ee"/><rect x="832" y="680" fill="#71caee"/><rect x="864" y="680" fill="#72caed"/><rect x="896" y="680" fill="#72caed"/><rect x="928" y="680" fill="#71c9ee"/><rect x="960" y="680" fill="#6fc8ee"/><rect x="992" y="680" fill="#6dc8ee"/><rect x="1024" y="680" fill="#6dc7ee"/><rect x="1056" y="680" fill="#6cc7ef"/><rect x="1088" y="680" fill="#69c5f0"/><rect x="1120" y="680" fill="#65c2f1"/><rect x="1152" y="680" fill="#60bef2"/><rect x="1184" y="680" fill="#5bbaf2"/><rect x="1216" y="680" fill="#56b6f2"/><rect x="1248" y="680" fill="#53b2f0"/><rect x="1280" y="680" fill="#50aeed"/><rect x="1312" y="680" fill="#4eaced"/><rect x="1344" y="680" fill="#4faced"/><rect x="1376" y="680" fill="#4faded"/><rect x="1408" y="680" fill="#50aeed"/><rect x="1440" y="680" fill="#51afee"/><rect x="1472" y="680" fill="#51b0ef"/><rect x="1504" y="680" fill="#52b0ef"/><rect x="1536" y="680" fill="#51b0ef"/><rect x="1568" y="680" fill="#52b0ef"/><rect x="1600" y="680" fill="#53b2f0"/><rect x="1632" y="680" fill="#55b5f1"/><rect x="1664" y="680" fill="#56b6f2"/><rect x="1696" y="680" fill="#57b7f2"/><rect x="1728" y="680" fill="#58b8f2"/><rect x="1760" y="680" fill="#5bbaf2"/><rect x="1792" y="680" fill="#5dbcf2"/><rect x="1824" y="680" fill="#5fbef2"/><rect x="1856" y="680" fill="#61bff2"/><rect x="1888" y="680" fill="#63c0f2"/><rect x="1920" y="680" fill="#64c1f1"/><rect x="1952" y="680" fill="#65c2f1"/><rect x="1984" y="680" fill="#66c2f1"/><rect x="2016" y="680" fill="#66c3f1"/><rect x="2048" y="680" fill="#66c3f1"/><rect x="2080" y="680" fill="#67c3f0"/><rect x="2112" y="680" fill="#67c3f0"/><rect x="2144" y="680" fill="#67c3f0"/><rect x="160" y="712" fill="#6ac5ef"/><rect x="192" y="712" fill="#68c4f0"/><rect x="224" y="712" fill="#67c3f0"/><rect x="256" y="712" fill="#65c2f1"/><rect x="288" y="712" fill="#64c2f1"/><rect x="320" y="712" fill="#65c2f1"/><rect x="352" y="712" fill="#65c2f1"/><rect x="384" y="712" fill="#66c2f1"/><rect x="416" y="712" fill="#65c2f1"/><rect x="448" y="712" fill="#65c2f1"/><rect x="480" y="712" fill="#65c2f1"/><rect x="512" y="712" fill="#64c2f1"/><rect x="544" y="712" fill="#64c1f1"/><rect x="576" y="712" fill="#64c2f1"/><rect x="608" y="712" fill="#65c2f1"/><rect x="640" y="712" fill="#67c3f0"/><rect x="672" y="712" fill="#69c5f0"/><rect x="704" y="712" fill="#6bc6ef"/><rect x="736" y="712" fill="#6dc7ee"/><rect x="768" y="712" fill="#6fc8ee"/><rect x="800" y="712" fill="#71caed"/><rect x="832" y="712" fill="#73cbed"/><rect x="864" y="712" fill="#73cbed"/><rect x="896" y="712" fill="#73cbed"/><rect x="928" y="712" fill="#72caed"/><rect x="960" y="712" fill="#70c9ee"/><rect x="992" y="712" fill="#6ec8ee"/><rect x="1024" y="712" fill="#6dc8ee"/><rect x="1056" y="712" fill="#6cc7ef"/><rect x="1088" y="712" fill="#6ac5ef"/><rect x="1120" y="712" fill="#66c2f1"/><rect x="1152" y="712" fill="#61bff2"/><rect x="1184" y="712" fill="#5cbbf2"/><rect x="1216" y="712" fill="#56b5f2"/><rect x="1248" y="712" fill="#51afee"/><rect x="1280" y="712" fill="#4daaeb"/><rect x="1312" y="712" fill="#4ba8ea"/><rect x="1344" y="712" fill="#4caaeb"/><rect x="1376" y="712" fill="#4eacec"/><rect x="1408" y="712" fill="#4faeed"/><rect x="1440" y="712" fill="#51afee"/><rect x="1472" y="712" fill="#52b1ef"/><rect x="1504" y="712" fill="#54b3f0"/><rect x="1536" y="712" fill="#54b4f1"/><rect x="1568" y="712" fill="#55b5f1"/><rect x="1600" y="712" fill="#56b5f2"/><rect x="1632" y="712" fill="#56b6f2"/><rect x="1664" y="712" fill="#57b7f2"/><rect x="1696" y="712" fill="#58b8f2"/><rect x="1728" y="712" fill="#59b9f2"/><rect x="1760" y="712" fill="#5bbaf2"/><rect x="1792" y="712" fill="#5ebcf2"/><rect x="1824" y="712" fill="#60bef2"/><rect x="1856" y="712" fill="#62c0f2"/><rect x="1888" y="712" fill="#63c1f2"/><rect x="1920" y="712" fill="#65c2f1"/><rect x="1952" y="712" fill="#66c2f1"/><rect x="1984" y="712" fill="#66c3f1"/><rect x="2016" y="712" fill="#67c3f0"/><rect x="2048" y="712" fill="#67c3f0"/><rect x="2080" y="712" fill="#67c3f0"/><rect x="2112" y="712" fill="#67c4f0"/><rect x="2144" y="712" fill="#67c4f0"/><rect x="2176" y="712" fill="#68c4f0"/><rect x="160" y="744" fill="#6dc7ee"/><rect x="192" y="744" fill="#6bc6ef"/><rect x="224" y="744" fill="#68c4f0"/><rect x="256" y="744" fill="#66c3f1"/><rect x="288" y="744" fill="#65c2f1"/><rect x="320" y="744" fill="#65c2f1"/><rect x="352" y="744" fill="#65c2f1"/><rect x="384" y="744" fill="#65c2f1"/><rect x="416" y="744" fill="#65c2f1"/><rect x="448" y="744" fill="#65c2f1"/><rect x="480" y="744" fill="#65c2f1"/><rect x="512" y="744" fill="#65c2f1"/><rect x="544" y="744" fill="#64c2f1"/><rect x="576" y="744" fill="#64c1f1"/><rect x="608" y="744" fill="#64c1f1"/><rect x="640" y="744" fill="#66c2f1"/><rect x="672" y="744" fill="#68c4f0"/><rect x="704" y="744" fill="#6bc6ef"/><rect x="736" y="744" fill="#6dc8ee"/><rect x="768" y="744" fill="#71caee"/><rect x="800" y="744" fill="#74cbed"/><rect x="832" y="744" fill="#75cced"/><rect x="864" y="744" fill="#74cced"/><rect x="896" y="744" fill="#73cbed"/><rect x="928" y="744" fill="#73cbed"/><rect x="960" y="744" fill="#72caed"/><rect x="992" y="744" fill="#70c9ee"/><rect x="1024" y="744" fill="#6fc9ee"/><rect x="1056" y="744" fill="#6dc7ee"/><rect x="1088" y="744" fill="#6ac5ef"/><rect x="1120" y="744" fill="#66c3f1"/><rect x="1152" y="744" fill="#62c0f2"/><rect x="1184" y="744" fill="#5cbbf2"/><rect x="1216" y="744" fill="#56b6f2"/><rect x="1248" y="744" fill="#50aeee"/><rect x="1280" y="744" fill="#4ba8ea"/><rect x="1312" y="744" fill="#4aa6e9"/><rect x="1344" y="744" fill="#4aa7ea"/><rect x="1376" y="744" fill="#4daaeb"/><rect x="1408" y="744" fill="#4faeed"/><rect x="1440" y="744" fill="#52b0ef"/><rect x="1472" y="744" fill="#54b3f0"/><rect x="1504" y="744" fill="#56b6f2"/><rect x="1536" y="744" fill="#57b7f2"/><rect x="1568" y="744" fill="#58b8f2"/><rect x="1600" y="744" fill="#58b8f2"/><rect x="1632" y="744" fill="#58b8f2"/><rect x="1664" y="744" fill="#59b8f2"/><rect x="1696" y="744" fill="#59b9f2"/><rect x="1728" y="744" fill="#5bbaf2"/><rect x="1760" y="744" fill="#5dbcf2"/><rect x="1792" y="744" fill="#5fbdf2"/><rect x="1824" y="744" fill="#61bff2"/><rect x="1856" y="744" fill="#63c0f2"/><rect x="1888" y="744" fill="#64c2f1"/><rect x="1920" y="744" fill="#66c3f1"/><rect x="1952" y="744" fill="#67c3f0"/><rect x="1984" y="744" fill="#67c4f0"/><rect x="2016" y="744" fill="#67c4f0"/><rect x="2048" y="744" fill="#68c4f0"/><rect x="2080" y="744" fill="#68c4f0"/><rect x="2112" y="744" fill="#68c4f0"/><rect x="2144" y="744" fill="#69c4f0"/><rect x="2176" y="744" fill="#69c4f0"/><rect x="2208" y="744" fill="#69c4f0"/><rect x="160" y="776" fill="#71caee"/><rect x="192" y="776" fill="#70c9ee"/><rect x="224" y="776" fill="#6cc7ef"/><rect x="256" y="776" fill="#69c5f0"/><rect x="288" y="776" fill="#67c3f0"/><rect x="320" y="776" fill="#66c3f1"/><rect x="352" y="776" fill="#66c2f1"/><rect x="384" y="776" fill="#65c2f1"/><rect x="416" y="776" fill="#64c2f1"/><rect x="448" y="776" fill="#65c2f1"/><rect x="480" y="776" fill="#65c2f1"/><rect x="512" y="776" fill="#65c2f1"/><rect x="544" y="776" fill="#65c2f1"/><rect x="576" y="776" fill="#64c1f1"/><rect x="608" y="776" fill="#64c2f1"/><rect x="640" y="776" fill="#66c3f1"/><rect x="672" y="776" fill="#68c4f0"/><rect x="704" y="776" fill="#6ac6ef"/><rect x="736" y="776" fill="#6dc8ee"/><rect x="768" y="776" fill="#72caed"/><rect x="800" y="776" fill="#76cced"/><rect x="832" y="776" fill="#77cded"/><rect x="864" y="776" fill="#76cded"/><rect x="896" y="776" fill="#75cced"/><rect x="928" y="776" fill="#74cced"/><rect x="960" y="776" fill="#74cbed"/><rect x="992" y="776" fill="#73cbed"/><rect x="1024" y="776" fill="#72caed"/><rect x="1056" y="776" fill="#6fc8ee"/><rect x="1088" y="776" fill="#6bc6ef"/><rect x="1120" y="776" fill="#67c3f0"/><rect x="1152" y="776" fill="#62c0f2"/><rect x="1184" y="776" fill="#5dbcf2"/><rect x="1216" y="776" fill="#58b7f2"/><rect x="1248" y="776" fill="#52b0ef"/><rect x="1280" y="776" fill="#4caaeb"/><rect x="1312" y="776" fill="#4aa6e9"/><rect x="1344" y="776" fill="#4aa7ea"/><rect x="1376" y="776" fill="#4daaeb"/><rect x="1408" y="776" fill="#50aeee"/><rect x="1440" y="776" fill="#53b2f0"/><rect x="1472" y="776" fill="#56b6f2"/><rect x="1504" y="776" fill="#59b8f2"/><rect x="1536" y="776" fill="#5bbaf2"/><rect x="1568" y="776" fill="#5bbaf2"/><rect x="1600" y="776" fill="#5bbaf2"/><rect x="1632" y="776" fill="#5abaf2"/><rect x="1664" y="776" fill="#5abaf2"/><rect x="1696" y="776" fill="#5bbaf2"/><rect x="1728" y="776" fill="#5dbcf2"/><rect x="1760" y="776" fill="#5fbdf2"/><rect x="1792" y="776" fill="#60bef2"/><rect x="1824" y="776" fill="#61bff2"/><rect x="1856" y="776" fill="#63c1f2"/><rect x="1888" y="776" fill="#65c2f1"/><rect x="1920" y="776" fill="#67c4f0"/><rect x="1952" y="776" fill="#68c4f0"/><rect x="1984" y="776" fill="#69c4f0"/><rect x="2016" y="776" fill="#68c4f0"/><rect x="2048" y="776" fill="#69c4f0"/><rect x="2080" y="776" fill="#69c5f0"/><rect x="2112" y="776" fill="#6ac5ef"/><rect x="2144" y="776" fill="#6ac5ef"/><rect x="2176" y="776" fill="#6ac5ef"/><rect x="2208" y="776" fill="#6ac5ef"/><rect x="160" y="808" fill="#73cbed"/><rect x="192" y="808" fill="#73cbed"/><rect x="224" y="808" fill="#71caee"/><rect x="256" y="808" fill="#6cc7ef"/><rect x="288" y="808" fill="#6ac5ef"/><rect x="320" y="808" fill="#67c4f0"/><rect x="352" y="808" fill="#65c2f1"/><rect x="384" y="808" fill="#63c1f2"/><rect x="416" y="808" fill="#63c0f2"/><rect x="448" y="808" fill="#63c1f2"/><rect x="480" y="808" fill="#64c2f1"/><rect x="512" y="808" fill="#65c2f1"/><rect x="544" y="808" fill="#65c2f1"/><rect x="576" y="808" fill="#65c2f1"/><rect x="608" y="808" fill="#66c2f1"/><rect x="640" y="808" fill="#67c3f0"/><rect x="672" y="808" fill="#68c4f0"/><rect x="704" y="808" fill="#69c5f0"/><rect x="736" y="808" fill="#6cc7ef"/><rect x="768" y="808" fill="#71caee"/><rect x="800" y="808" fill="#75cced"/><rect x="832" y="808" fill="#77cded"/><rect x="864" y="808" fill="#77cded"/><rect x="896" y="808" fill="#77cded"/><rect x="928" y="808" fill="#76cded"/><rect x="960" y="808" fill="#75cced"/><rect x="992" y="808" fill="#75cced"/><rect x="1024" y="808" fill="#74cced"/><rect x="1056" y="808" fill="#71caed"/><rect x="1088" y="808" fill="#6dc7ee"/><rect x="1120" y="808" fill="#67c4f0"/><rect x="1152" y="808" fill="#62c0f2"/><rect x="1184" y="808" fill="#5ebcf2"/><rect x="1216" y="808" fill="#5ab9f2"/><rect x="1248" y="808" fill="#55b4f1"/><rect x="1280" y="808" fill="#50aeed"/><rect x="1312" y="808" fill="#4daaeb"/><rect x="1344" y="808" fill="#4daaeb"/><rect x="1376" y="808" fill="#4faded"/><rect x="1408" y="808" fill="#52b1ef"/><rect x="1440" y="808" fill="#55b4f1"/><rect x="1472" y="808" fill="#58b7f2"/><rect x="1504" y="808" fill="#5bbaf2"/><rect x="1536" y="808" fill="#5dbcf2"/><rect x="1568" y="808" fill="#5dbcf2"/><rect x="1600" y="808" fill="#5cbbf2"/><rect x="1632" y="808" fill="#5cbbf2"/><rect x="1664" y="808" fill="#5cbbf2"/><rect x="1696" y="808" fill="#5dbcf2"/><rect x="1728" y="808" fill="#5ebdf2"/><rect x="1760" y="808" fill="#60bef2"/><rect x="1792" y="808" fill="#60bff2"/><rect x="1824" y="808" fill="#62c0f2"/><rect x="1856" y="808" fill="#64c1f1"/><rect x="1888" y="808" fill="#66c3f1"/><rect x="1920" y="808" fill="#69c4f0"/><rect x="1952" y="808" fill="#6ac5ef"/><rect x="1984" y="808" fill="#6ac5ef"/><rect x="2016" y="808" fill="#69c5f0"/><rect x="2048" y="808" fill="#6ac5ef"/><rect x="2080" y="808" fill="#6bc6ef"/><rect x="2112" y="808" fill="#6cc6ef"/><rect x="2144" y="808" fill="#6cc7ef"/><rect x="2176" y="808" fill="#6cc6ef"/><rect x="2208" y="808" fill="#6bc6ef"/><rect x="160" y="840" fill="#74cbed"/><rect x="192" y="840" fill="#74cbed"/><rect x="224" y="840" fill="#72caed"/><rect x="256" y="840" fill="#6ec8ee"/><rect x="288" y="840" fill="#6bc6ef"/><rect x="320" y="840" fill="#68c4f0"/><rect x="352" y="840" fill="#65c2f1"/><rect x="384" y="840" fill="#61bff2"/><rect x="416" y="840" fill="#60bff2"/><rect x="448" y="840" fill="#62c0f2"/><rect x="480" y="840" fill="#64c1f1"/><rect x="512" y="840" fill="#65c2f1"/><rect x="544" y="840" fill="#66c3f1"/><rect x="576" y="840" fill="#66c3f1"/><rect x="608" y="840" fill="#67c3f0"/><rect x="640" y="840" fill="#67c3f0"/><rect x="672" y="840" fill="#67c3f0"/><rect x="704" y="840" fill="#68c4f0"/><rect x="736" y="840" fill="#6bc6ef"/><rect x="768" y="840" fill="#6fc9ee"/><rect x="800" y="840" fill="#73cbed"/><rect x="832" y="840" fill="#76cced"/><rect x="864" y="840" fill="#77cdec"/><rect x="896" y="840" fill="#78ceec"/><rect x="928" y="840" fill="#77cdec"/><rect x="960" y="840" fill="#77cded"/><rect x="992" y="840" fill="#76cded"/><rect x="1024" y="840" fill="#75cced"/><rect x="1056" y="840" fill="#73cbed"/><rect x="1088" y="840" fill="#70c9ee"/><rect x="1120" y="840" fill="#6ac5ef"/><rect x="1152" y="840" fill="#63c1f2"/><rect x="1184" y="840" fill="#5ebdf2"/><rect x="1216" y="840" fill="#5cbbf2"/><rect x="1248" y="840" fill="#58b8f2"/><rect x="1280" y="840" fill="#54b3f0"/><rect x="1312" y="840" fill="#51b0ef"/><rect x="1344" y="840" fill="#51afee"/><rect x="1376" y="840" fill="#52b1ef"/><rect x="1408" y="840" fill="#54b4f1"/><rect x="1440" y="840" fill="#57b6f2"/><rect x="1472" y="840" fill="#59b9f2"/><rect x="1504" y="840" fill="#5cbbf2"/><rect x="1536" y="840" fill="#5dbcf2"/><rect x="1568" y="840" fill="#5ebcf2"/><rect x="1600" y="840" fill="#5dbcf2"/><rect x="1632" y="840" fill="#5dbcf2"/><rect x="1664" y="840" fill="#5dbcf2"/><rect x="1696" y="840" fill="#5ebdf2"/><rect x="1728" y="840" fill="#5fbef2"/><rect x="1760" y="840" fill="#60bef2"/><rect x="1792" y="840" fill="#61bff2"/><rect x="1824" y="840" fill="#62c0f2"/><rect x="1856" y="840" fill="#64c1f1"/><rect x="1888" y="840" fill="#67c3f0"/><rect x="1920" y="840" fill="#69c5f0"/><rect x="1952" y="840" fill="#6ac5ef"/><rect x="1984" y="840" fill="#6ac5ef"/><rect x="2016" y="840" fill="#6ac5ef"/><rect x="2048" y="840" fill="#6ac6ef"/><rect x="2080" y="840" fill="#6cc7ef"/><rect x="2112" y="840" fill="#6dc7ee"/><rect x="2144" y="840" fill="#6dc8ee"/><rect x="2176" y="840" fill="#6dc7ee"/><rect x="2208" y="840" fill="#6cc7ef"/><rect x="160" y="872" fill="#72cbed"/><rect x="192" y="872" fill="#72caed"/><rect x="224" y="872" fill="#71caed"/><rect x="256" y="872" fill="#6fc9ee"/><rect x="288" y="872" fill="#6cc7ef"/><rect x="320" y="872" fill="#69c5f0"/><rect x="352" y="872" fill="#65c2f1"/><rect x="384" y="872" fill="#61c0f2"/><rect x="416" y="872" fill="#60bff2"/><rect x="448" y="872" fill="#62c0f2"/><rect x="480" y="872" fill="#64c1f1"/><rect x="512" y="872" fill="#65c2f1"/><rect x="544" y="872" fill="#66c3f1"/><rect x="576" y="872" fill="#67c3f0"/><rect x="608" y="872" fill="#67c3f0"/><rect x="640" y="872" fill="#67c3f0"/><rect x="672" y="872" fill="#67c3f0"/><rect x="704" y="872" fill="#67c4f0"/><rect x="736" y="872" fill="#6ac5ef"/><rect x="768" y="872" fill="#6ec8ee"/><rect x="800" y="872" fill="#72caed"/><rect x="832" y="872" fill="#75cced"/><rect x="864" y="872" fill="#76cded"/><rect x="896" y="872" fill="#78ceec"/><rect x="928" y="872" fill="#79ceec"/><rect x="960" y="872" fill="#79cfec"/><rect x="992" y="872" fill="#78ceec"/><rect x="1024" y="872" fill="#77cdec"/><rect x="1056" y="872" fill="#77cded"/><rect x="1088" y="872" fill="#75cced"/><rect x="1120" y="872" fill="#6dc8ee"/><rect x="1152" y="872" fill="#66c3f1"/><rect x="1184" y="872" fill="#61bff2"/><rect x="1216" y="872" fill="#5ebdf2"/><rect x="1248" y="872" fill="#5bbaf2"/><rect x="1280" y="872" fill="#57b7f2"/><rect x="1312" y="872" fill="#55b5f1"/><rect x="1344" y="872" fill="#55b4f1"/><rect x="1376" y="872" fill="#55b5f2"/><rect x="1408" y="872" fill="#57b7f2"/><rect x="1440" y="872" fill="#58b8f2"/><rect x="1472" y="872" fill="#5ab9f2"/><rect x="1504" y="872" fill="#5bbaf2"/><rect x="1536" y="872" fill="#5dbcf2"/><rect x="1568" y="872" fill="#5dbcf2"/><rect x="1600" y="872" fill="#5dbcf2"/><rect x="1632" y="872" fill="#5dbcf2"/><rect x="1664" y="872" fill="#5ebdf2"/><rect x="1696" y="872" fill="#5fbdf2"/><rect x="1728" y="872" fill="#60bef2"/><rect x="1760" y="872" fill="#60bff2"/><rect x="1792" y="872" fill="#61bff2"/><rect x="1824" y="872" fill="#62c0f2"/><rect x="1856" y="872" fill="#64c1f1"/><rect x="1888" y="872" fill="#66c3f1"/><rect x="1920" y="872" fill="#68c4f0"/><rect x="1952" y="872" fill="#69c5f0"/><rect x="1984" y="872" fill="#69c5f0"/><rect x="2016" y="872" fill="#6ac5ef"/><rect x="2048" y="872" fill="#6bc6ef"/><rect x="2080" y="872" fill="#6dc7ee"/><rect x="2112" y="872" fill="#6ec8ee"/><rect x="2144" y="872" fill="#6ec8ee"/><rect x="2176" y="872" fill="#6ec8ee"/><rect x="2208" y="872" fill="#6dc7ee"/><rect x="160" y="904" fill="#71caee"/><rect x="192" y="904" fill="#71caee"/><rect x="224" y="904" fill="#70c9ee"/><rect x="256" y="904" fill="#6fc8ee"/><rect x="288" y="904" fill="#6cc7ef"/><rect x="320" y="904" fill="#6ac5ef"/><rect x="352" y="904" fill="#66c3f1"/><rect x="384" y="904" fill="#63c1f2"/><rect x="416" y="904" fill="#63c0f2"/><rect x="448" y="904" fill="#63c1f2"/><rect x="480" y="904" fill="#65c2f1"/><rect x="512" y="904" fill="#66c3f1"/><rect x="544" y="904" fill="#67c3f0"/><rect x="576" y="904" fill="#67c3f0"/><rect x="608" y="904" fill="#67c4f0"/><rect x="640" y="904" fill="#67c4f0"/><rect x="672" y="904" fill="#67c4f0"/><rect x="704" y="904" fill="#68c4f0"/><rect x="736" y="904" fill="#6ac5ef"/><rect x="768" y="904" fill="#6dc7ee"/><rect x="800" y="904" fill="#70c9ee"/><rect x="832" y="904" fill="#73cbed"/><rect x="864" y="904" fill="#75cced"/><rect x="896" y="904" fill="#77cdec"/><rect x="928" y="904" fill="#7acfec"/><rect x="960" y="904" fill="#7dd0ec"/><rect x="992" y="904" fill="#7acfec"/><rect x="1024" y="904" fill="#78ceec"/><rect x="1056" y="904" fill="#79ceec"/><rect x="1088" y="904" fill="#78ceec"/><rect x="1120" y="904" fill="#71caed"/><rect x="1152" y="904" fill="#6ac5ef"/><rect x="1184" y="904" fill="#64c2f1"/><rect x="1216" y="904" fill="#61bff2"/><rect x="1248" y="904" fill="#5ebcf2"/><rect x="1280" y="904" fill="#5bbaf2"/><rect x="1312" y="904" fill="#58b8f2"/><rect x="1344" y="904" fill="#58b7f2"/><rect x="1376" y="904" fill="#58b8f2"/><rect x="1408" y="904" fill="#59b8f2"/><rect x="1440" y="904" fill="#59b9f2"/><rect x="1472" y="904" fill="#5ab9f2"/><rect x="1504" y="904" fill="#5bbaf2"/><rect x="1536" y="904" fill="#5cbbf2"/><rect x="1568" y="904" fill="#5dbcf2"/><rect x="1600" y="904" fill="#5dbcf2"/><rect x="1632" y="904" fill="#5ebdf2"/><rect x="1664" y="904" fill="#5fbdf2"/><rect x="1696" y="904" fill="#5fbef2"/><rect x="1728" y="904" fill="#60bff2"/><rect x="1760" y="904" fill="#61bff2"/><rect x="1792" y="904" fill="#62c0f2"/><rect x="1824" y="904" fill="#63c0f2"/><rect x="1856" y="904" fill="#64c1f1"/><rect x="1888" y="904" fill="#66c3f1"/><rect x="1920" y="904" fill="#67c4f0"/><rect x="1952" y="904" fill="#68c4f0"/><rect x="1984" y="904" fill="#69c5f0"/><rect x="2016" y="904" fill="#6ac5ef"/><rect x="2048" y="904" fill="#6bc6ef"/><rect x="2080" y="904" fill="#6dc7ee"/><rect x="2112" y="904" fill="#6ec8ee"/><rect x="2144" y="904" fill="#6ec8ee"/><rect x="2176" y="904" fill="#6ec8ee"/><rect x="2208" y="904" fill="#6dc7ee"/><rect x="160" y="936" fill="#6fc8ee"/><rect x="192" y="936" fill="#6ec8ee"/><rect x="224" y="936" fill="#6ec8ee"/><rect x="256" y="936" fill="#6dc8ee"/><rect x="288" y="936" fill="#6cc7ef"/><rect x="320" y="936" fill="#6ac5ef"/><rect x="352" y="936" fill="#68c4f0"/><rect x="384" y="936" fill="#66c2f1"/><rect x="416" y="936" fill="#65c2f1"/><rect x="448" y="936" fill="#65c2f1"/><rect x="544" y="936" fill="#67c4f0"/><rect x="576" y="936" fill="#68c4f0"/><rect x="608" y="936" fill="#68c4f0"/><rect x="640" y="936" fill="#68c4f0"/><rect x="672" y="936" fill="#68c4f0"/><rect x="704" y="936" fill="#69c5f0"/><rect x="736" y="936" fill="#6bc6ef"/><rect x="768" y="936" fill="#6dc7ee"/><rect x="800" y="936" fill="#70c9ee"/><rect x="832" y="936" fill="#72caed"/><rect x="864" y="936" fill="#74cced"/><rect x="896" y="936" fill="#77cded"/><rect x="928" y="936" fill="#79ceec"/><rect x="960" y="936" fill="#7bcfec"/><rect x="992" y="936" fill="#7acfec"/><rect x="1024" y="936" fill="#78ceec"/><rect x="1056" y="936" fill="#78ceec"/><rect x="1088" y="936" fill="#76cded"/><rect x="1120" y="936" fill="#71caed"/><rect x="1152" y="936" fill="#6bc6ef"/><rect x="1184" y="936" fill="#67c3f0"/><rect x="1216" y="936" fill="#63c1f2"/><rect x="1248" y="936" fill="#60bef2"/><rect x="1280" y="936" fill="#5dbcf2"/><rect x="1312" y="936" fill="#5bbaf2"/><rect x="1344" y="936" fill="#5ab9f2"/><rect x="1376" y="936" fill="#5ab9f2"/><rect x="1408" y="936" fill="#5ab9f2"/><rect x="1440" y="936" fill="#5ab9f2"/><rect x="1472" y="936" fill="#5abaf2"/><rect x="1504" y="936" fill="#5bbaf2"/><rect x="1536" y="936" fill="#5cbbf2"/><rect x="1568" y="936" fill="#5dbcf2"/><rect x="1600" y="936" fill="#5ebcf2"/><rect x="1632" y="936" fill="#5ebdf2"/><rect x="1664" y="936" fill="#5fbef2"/><rect x="1696" y="936" fill="#60bef2"/><rect x="1728" y="936" fill="#61bff2"/><rect x="1760" y="936" fill="#62c0f2"/><rect x="1792" y="936" fill="#63c0f2"/><rect x="1824" y="936" fill="#63c1f2"/><rect x="1856" y="936" fill="#65c2f1"/><rect x="1888" y="936" fill="#66c3f1"/><rect x="1920" y="936" fill="#67c3f0"/><rect x="1952" y="936" fill="#68c4f0"/><rect x="1984" y="936" fill="#69c4f0"/><rect x="2016" y="936" fill="#69c5f0"/><rect x="2048" y="936" fill="#6bc6ef"/><rect x="2080" y="936" fill="#6cc7ef"/><rect x="2112" y="936" fill="#6dc7ee"/><rect x="2144" y="936" fill="#6dc8ee"/><rect x="2176" y="936" fill="#6dc7ee"/><rect x="2208" y="936" fill="#6cc7ef"/><rect x="160" y="968" fill="#6dc7ee"/><rect x="192" y="968" fill="#6dc7ee"/><rect x="224" y="968" fill="#6cc7ef"/><rect x="256" y="968" fill="#6cc7ef"/><rect x="288" y="968" fill="#6cc6ef"/><rect x="320" y="968" fill="#6ac6ef"/><rect x="352" y="968" fill="#69c5f0"/><rect x="384" y="968" fill="#67c4f0"/><rect x="736" y="968" fill="#6bc6ef"/><rect x="768" y="968" fill="#6dc7ee"/><rect x="800" y="968" fill="#6fc9ee"/><rect x="864" y="968" fill="#73cbed"/><rect x="896" y="968" fill="#75cced"/><rect x="928" y="968" fill="#77cded"/><rect x="960" y="968" fill="#78ceec"/><rect x="992" y="968" fill="#77cdec"/><rect x="1024" y="968" fill="#76cded"/><rect x="1056" y="968" fill="#75cced"/><rect x="1088" y="968" fill="#73cbed"/><rect x="1120" y="968" fill="#70c9ee"/><rect x="1152" y="968" fill="#6bc6ef"/><rect x="1184" y="968" fill="#68c4f0"/><rect x="1216" y="968" fill="#64c2f1"/><rect x="1280" y="968" fill="#5fbdf2"/><rect x="1312" y="968" fill="#5dbcf2"/><rect x="1344" y="968" fill="#5bbbf2"/><rect x="1376" y="968" fill="#5bbaf2"/><rect x="1408" y="968" fill="#5abaf2"/><rect x="1440" y="968" fill="#5abaf2"/><rect x="1472" y="968" fill="#5bbaf2"/><rect x="1504" y="968" fill="#5cbbf2"/><rect x="1536" y="968" fill="#5dbcf2"/><rect x="1568" y="968" fill="#5ebcf2"/><rect x="1600" y="968" fill="#5ebdf2"/><rect x="1632" y="968" fill="#5fbdf2"/><rect x="1664" y="968" fill="#60bef2"/><rect x="1696" y="968" fill="#61bff2"/><rect x="1728" y="968" fill="#62c0f2"/><rect x="1760" y="968" fill="#63c1f2"/><rect x="1792" y="968" fill="#64c1f1"/><rect x="1824" y="968" fill="#64c2f1"/><rect x="1856" y="968" fill="#65c2f1"/><rect x="1888" y="968" fill="#66c3f1"/><rect x="1920" y="968" fill="#67c4f0"/><rect x="1952" y="968" fill="#68c4f0"/><rect x="1984" y="968" fill="#69c5f0"/><rect x="2016" y="968" fill="#69c5f0"/><rect x="2048" y="968" fill="#6ac5ef"/><rect x="2080" y="968" fill="#6bc6ef"/><rect x="2112" y="968" fill="#6cc7ef"/><rect x="2144" y="968" fill="#6cc7ef"/><rect x="2176" y="968" fill="#6cc7ef"/><rect x="2208" y="968" fill="#6bc6ef"/><rect x="160" y="1000" fill="#6cc7ef"/><rect x="192" y="1000" fill="#6cc7ef"/><rect x="224" y="1000" fill="#6cc6ef"/><rect x="256" y="1000" fill="#6cc6ef"/><rect x="288" y="1000" fill="#6bc6ef"/><rect x="1024" y="1000" fill="#74cbed"/><rect x="1056" y="1000" fill="#72cbed"/><rect x="1088" y="1000" fill="#70c9ee"/><rect x="1120" y="1000" fill="#6ec8ee"/><rect x="1152" y="1000" fill="#6bc6ef"/><rect x="1280" y="1000" fill="#60bff2"/><rect x="1312" y="1000" fill="#5ebdf2"/><rect x="1344" y="1000" fill="#5dbcf2"/><rect x="1376" y="1000" fill="#5cbbf2"/><rect x="1408" y="1000" fill="#5bbaf2"/><rect x="1440" y="1000" fill="#5bbaf2"/><rect x="1472" y="1000" fill="#5cbbf2"/><rect x="1504" y="1000" fill="#5dbcf2"/><rect x="1536" y="1000" fill="#5dbcf2"/><rect x="1568" y="1000" fill="#5ebdf2"/><rect x="1600" y="1000" fill="#5ebdf2"/><rect x="1632" y="1000" fill="#5fbef2"/><rect x="1664" y="1000" fill="#61bff2"/><rect x="1696" y="1000" fill="#62c0f2"/><rect x="1728" y="1000" fill="#63c1f2"/><rect x="1760" y="1000" fill="#64c2f1"/><rect x="1792" y="1000" fill="#65c2f1"/><rect x="1824" y="1000" fill="#66c2f1"/><rect x="1856" y="1000" fill="#66c3f1"/><rect x="1888" y="1000" fill="#67c3f0"/><rect x="1920" y="1000" fill="#68c4f0"/><rect x="1952" y="1000" fill="#69c5f0"/><rect x="1984" y="1000" fill="#69c5f0"/><rect x="2016" y="1000" fill="#6ac5ef"/><rect x="2048" y="1000" fill="#6ac5ef"/><rect x="2080" y="1000" fill="#6ac5ef"/><rect x="2112" y="1000" fill="#6bc6ef"/><rect x="2144" y="1000" fill="#6bc6ef"/><rect x="2176" y="1000" fill="#6bc6ef"/><rect x="2208" y="1000" fill="#6bc6ef"/><rect x="160" y="1032" fill="#6cc7ef"/><rect x="192" y="1032" fill="#6cc6ef"/><rect x="224" y="1032" fill="#6bc6ef"/><rect x="256" y="1032" fill="#6bc6ef"/><rect x="1312" y="1032" fill="#60bef2"/><rect x="1344" y="1032" fill="#5ebdf2"/><rect x="1376" y="1032" fill="#5dbcf2"/><rect x="1408" y="1032" fill="#5dbbf2"/><rect x="1440" y="1032" fill="#5dbbf2"/><rect x="1472" y="1032" fill="#5dbcf2"/><rect x="1504" y="1032" fill="#5dbcf2"/><rect x="1536" y="1032" fill="#5ebdf2"/><rect x="1568" y="1032" fill="#5ebdf2"/><rect x="1600" y="1032" fill="#5ebdf2"/><rect x="1632" y="1032" fill="#5fbef2"/><rect x="1664" y="1032" fill="#62c0f2"/><rect x="1696" y="1032" fill="#64c1f1"/><rect x="1728" y="1032" fill="#65c2f1"/><rect x="1760" y="1032" fill="#66c3f1"/><rect x="1792" y="1032" fill="#67c3f0"/><rect x="1824" y="1032" fill="#67c3f0"/><rect x="1856" y="1032" fill="#67c4f0"/><rect x="1888" y="1032" fill="#68c4f0"/><rect x="1920" y="1032" fill="#69c5f0"/><rect x="1952" y="1032" fill="#6ac5ef"/><rect x="1984" y="1032" fill="#6ac5ef"/><rect x="2016" y="1032" fill="#6ac5ef"/><rect x="2048" y="1032" fill="#6ac5ef"/><rect x="2080" y="1032" fill="#6ac5ef"/><rect x="2112" y="1032" fill="#6ac5ef"/><rect x="2144" y="1032" fill="#6ac5ef"/><rect x="2176" y="1032" fill="#6ac5ef"/><rect x="160" y="1064" fill="#6cc7ef"/><rect x="192" y="1064" fill="#6cc6ef"/><rect x="224" y="1064" fill="#6bc6ef"/><rect x="256" y="1064" fill="#6bc6ef"/><rect x="1376" y="1064" fill="#5ebdf2"/><rect x="1472" y="1064" fill="#5ebdf2"/><rect x="1504" y="1064" fill="#5ebdf2"/><rect x="1536" y="1064" fill="#5ebdf2"/><rect x="1568" y="1064" fill="#5ebdf2"/><rect x="1600" y="1064" fill="#5fbdf2"/><rect x="1632" y="1064" fill="#60bff2"/><rect x="1664" y="1064" fill="#63c1f2"/><rect x="1696" y="1064" fill="#66c2f1"/><rect x="1728" y="1064" fill="#68c4f0"/><rect x="1760" y="1064" fill="#69c5f0"/><rect x="1792" y="1064" fill="#69c5f0"/><rect x="1824" y="1064" fill="#69c4f0"/><rect x="1856" y="1064" fill="#68c4f0"/><rect x="1888" y="1064" fill="#69c4f0"/><rect x="1920" y="1064" fill="#69c5f0"/><rect x="1952" y="1064" fill="#6ac5ef"/><rect x="1984" y="1064" fill="#6ac6ef"/><rect x="2016" y="1064" fill="#6ac6ef"/><rect x="2048" y="1064" fill="#6ac5ef"/><rect x="2080" y="1064" fill="#6ac5ef"/><rect x="2112" y="1064" fill="#6ac5ef"/><rect x="2144" y="1064" fill="#69c5f0"/><rect x="1504" y="1096" fill="#5fbdf2"/><rect x="1536" y="1096" fill="#5fbef2"/><rect x="1568" y="1096" fill="#5fbef2"/><rect x="1600" y="1096" fill="#60bff2"/><rect x="1632" y="1096" fill="#62c0f2"/><rect x="1664" y="1096" fill="#65c2f1"/><rect x="1696" y="1096" fill="#68c4f0"/><rect x="1728" y="1096" fill="#6bc6ef"/><rect x="1760" y="1096" fill="#6bc6ef"/><rect x="1792" y="1096" fill="#6bc6ef"/><rect x="1824" y="1096" fill="#6ac5ef"/><rect x="1856" y="1096" fill="#69c5f0"/><rect x="1888" y="1096" fill="#69c5f0"/><rect x="1920" y="1096" fill="#6ac5ef"/><rect x="1952" y="1096" fill="#6ac6ef"/><rect x="1984" y="1096" fill="#6bc6ef"/><rect x="2016" y="1096" fill="#6ac6ef"/><rect x="2048" y="1096" fill="#6ac5ef"/><rect x="2080" y="1096" fill="#6ac5ef"/><rect x="2112" y="1096" fill="#69c5f0"/><rect x="1536" y="1128" fill="#60bff2"/><rect x="1568" y="1128" fill="#61bff2"/><rect x="1600" y="1128" fill="#62c0f2"/><rect x="1632" y="1128" fill="#64c1f1"/><rect x="1664" y="1128" fill="#67c3f0"/><rect x="1696" y="1128" fill="#6ac5ef"/><rect x="1728" y="1128" fill="#6cc7ef"/><rect x="1760" y="1128" fill="#6dc7ee"/><rect x="1792" y="1128" fill="#6cc7ef"/><rect x="1824" y="1128" fill="#6bc6ef"/><rect x="1856" y="1128" fill="#6ac5ef"/><rect x="1888" y="1128" fill="#69c5f0"/><rect x="1920" y="1128" fill="#6ac5ef"/><rect x="1952" y="1128" fill="#6ac5ef"/><rect x="1984" y="1128" fill="#6ac6ef"/><rect x="2016" y="1128" fill="#6ac5ef"/><rect x="2048" y="1128" fill="#6ac5ef"/><rect x="2080" y="1128" fill="#69c5f0"/><rect x="1568" y="1160" fill="#62c0f2"/><rect x="1600" y="1160" fill="#63c1f2"/><rect x="1632" y="1160" fill="#65c2f1"/><rect x="1664" y="1160" fill="#68c4f0"/><rect x="1696" y="1160" fill="#6bc6ef"/><rect x="1728" y="1160" fill="#6dc7ee"/><rect x="1760" y="1160" fill="#6dc7ee"/><rect x="1792" y="1160" fill="#6dc7ee"/><rect x="1824" y="1160" fill="#6bc6ef"/><rect x="1856" y="1160" fill="#6ac5ef"/><rect x="1888" y="1160" fill="#69c5f0"/><rect x="1920" y="1160" fill="#69c5f0"/><rect x="1952" y="1160" fill="#6ac5ef"/><rect x="1984" y="1160" fill="#6ac5ef"/><rect x="2016" y="1160" fill="#6ac5ef"/><rect x="2048" y="1160" fill="#69c5f0"/><rect x="2080" y="1160" fill="#69c5f0"/><rect x="1600" y="1192" fill="#64c1f1"/><rect x="1632" y="1192" fill="#66c3f1"/><rect x="1664" y="1192" fill="#68c4f0"/><rect x="1696" y="1192" fill="#6ac6ef"/><rect x="1728" y="1192" fill="#6cc7ef"/><rect x="1760" y="1192" fill="#6cc7ef"/><rect x="1792" y="1192" fill="#6cc7ef"/><rect x="1824" y="1192" fill="#6bc6ef"/><rect x="1856" y="1192" fill="#6ac5ef"/><rect x="1888" y="1192" fill="#69c5f0"/><rect x="1920" y="1192" fill="#69c5f0"/><rect x="1952" y="1192" fill="#69c5f0"/><rect x="1984" y="1192" fill="#69c5f0"/><rect x="2016" y="1192" fill="#69c5f0"/><rect x="2048" y="1192" fill="#69c5f0"/><rect x="2080" y="1192" fill="#69c4f0"/><rect x="1632" y="1224" fill="#66c3f1"/><rect x="1664" y="1224" fill="#68c4f0"/><rect x="1696" y="1224" fill="#69c5f0"/><rect x="1728" y="1224" fill="#6bc6ef"/><rect x="1760" y="1224" fill="#6bc6ef"/><rect x="1792" y="1224" fill="#6bc6ef"/><rect x="1824" y="1224" fill="#6ac5ef"/><rect x="1856" y="1224" fill="#69c5f0"/><rect x="1952" y="1224" fill="#69c4f0"/><rect x="1984" y="1224" fill="#69c4f0"/><rect x="2016" y="1224" fill="#69c4f0"/><rect x="1664" y="1256" fill="#67c3f0"/><rect x="1696" y="1256" fill="#68c4f0"/><rect x="1728" y="1256" fill="#69c5f0"/><rect x="1760" y="1256" fill="#6ac5ef"/><rect x="1792" y="1256" fill="#6ac5ef"/><rect x="1824" y="1256" fill="#69c5f0"/><rect x="1856" y="1256" fill="#69c5f0"/><rect x="1728" y="1288" fill="#68c4f0"/><rect x="1760" y="1288" fill="#69c4f0"/></g></g>
<polyline points="541.25,267.5 555,292.5 553.75,295 560,320 562.5,345 547.5,352.5 532.5,360 535,367.5 520,378.75 506.25,382.5 517.5,392.5 540,398.75 552.5,393.75 555,402.5 561.25,405 560,435 566.25,442.5 567.5,457.5 555,463.75 547.5,480 540,490 535,497.5 537.5,502.5 547.5,515 550,525 562.5,535 577.5,541.25 580,562.5 582.5,570 577.5,575 585,592.5 602.5,590 617.5,590 627.5,597.5 635,590 647.5,587.5 657.5,592.5 660,580 655,570 655,552.5 667.5,547.5 690,540 702.5,530 717.5,527.5 735,535 740,512.5 752.5,505 765,497.5 775,490 782,483" fill="none" stroke="#8a8a8a" stroke-width="1.4" stroke-linejoin="round"/>
<polyline points="537.5,502.5 533.75,520 532.5,537.5 515,541.25 512.5,546.25 500,545 483.75,537.5 467.5,547.5 451.25,547.5 437.5,542.5 422.5,541.25 423.75,552.5 420,552.5 417.5,542.5 400,532.5 387.5,533.75 377.5,536.25 370,548.75 352.5,556.25 346.25,553.75 337.5,562.5 332.5,580 336.25,607.5 332.5,582.5 335,607.5 312.5,612.5 315,622.5 325,632.5 337.5,640 332.5,650 322.5,655 340,660 342.5,672.5 365,671.25 377.5,697.5 392.5,700 407.5,715 410,732.5 415,745 426.25,753.75 427.5,772.5 420,782.5 411.25,787.5 412.5,800 415,822.5 422.5,832.5 442.5,835 450,842.5 462.5,840 470,843.75 477.5,841.25 485,850 490,837.5 477.5,830 480,817.5 510,812.5 505,790 501.25,755 505,752.5 520,745 523.75,735 521.25,702.5 537.5,697.5 540,685 560,680 570,670 573.75,667.5 565,652.5 552.5,647.5 550,640 560,635 572.5,640 585,657.5 600,650 600,642.5 610,640 625,642.5 620,650 622.5,660 612.5,670 622.5,680 645,685 660,695 677.5,702.5 692.5,698.75 702.5,712.5 705,740 700,747.5 705,760 695,762.5 707.5,767.5 712.5,782.5 705,797.5 690,800 695,817.5 680,825 677.5,835 670,860 677.5,875 675,892.5 692.5,897.5 712.5,905 725,907.5 730,902.5" fill="none" stroke="#8a8a8a" stroke-width="1.4" stroke-linejoin="round"/>
<polyline points="617.5,590 610,610 605,630 600,642.5" fill="none" stroke="#8a8a8a" stroke-width="1.4" stroke-linejoin="round"/>
<polyline points="462.5,840 457.5,850 455,855 460,867.5 472.5,875 470,885 452.5,886.25 462.5,901.25" fill="none" stroke="#8a8a8a" stroke-width="1.4" stroke-linejoin="round"/>
<polyline points="390,360 395,375 392.5,390 380,395 377.5,412.5 370,407.5 365,415 360,405" fill="none" stroke="#8a8a8a" stroke-width="1.4" stroke-linejoin="round"/>
<polyline points="200,785 212.5,786 210,800 215,812.5 205,820" fill="none" stroke="#8a8a8a" stroke-width="1.4" stroke-linejoin="round"/>
<polyline points="885,620 886.25,640 920,641.25 927.5,633.75 935,637.5 950,632.5 967.5,626.25 970,620 977.5,626.25 995,620 1012.5,613.75 1025,610 1032.5,612.5 1025,622.5 1015,632.5 1032.5,640 1040,647.5 1050,652.5 1047.5,665" fill="none" stroke="#8a8a8a" stroke-width="1.4" stroke-linejoin="round"/>
<polyline points="892.5,637.5 892.5,657.5 882.5,660 887.5,697.5 892.5,696.25 898.75,723.75 875,732.5 870,750 885,762.5 875,775 872.5,785 865,795 865,802.5 885,807.5 885,812.5 872.5,815 870,825 880,835 875,855 867.5,860 865,872.5 872.5,885 877.5,905 860,915 867.5,935" fill="none" stroke="#8a8a8a" stroke-width="1.4" stroke-linejoin="round"/>
<polyline points="892.5,657.5 925,657.5 950,677.5 967.5,702.5" fill="none" stroke="#8a8a8a" stroke-width="1.4" stroke-linejoin="round"/>
<polyline points="892.5,696.25 860,700 855,707.5 840,715 847.5,730 830,750 805,745 775,757.5 750,750 712.5,755 700,757.5" fill="none" stroke="#8a8a8a" stroke-width="1.4" stroke-linejoin="round"/>
<polyline points="965,702.5 960,732.5 975,742.5 985,737.5 1007.5,730 1010,740 1027.5,740 1035,757.5 1042.5,760 1100,757.5 1107.5,762.5 1130,775 1140,767.5 1165,747.5 1175,746.25 1205,747.5 1205,767.5 1190,767.5 1192.5,785 1200,800 1212.5,810 1215,820 1210,830 1215,835 1250,825 1275,820 1295,815 1317.5,807.5" fill="none" stroke="#8a8a8a" stroke-width="1.4" stroke-linejoin="round"/>
<polyline points="1042.5,777.5 1030,772.5 1032.5,785 1047.5,792.5 1037.5,810 1062.5,816.25 1050,835 1042.5,855 1025,855 1010,860 995,870 987.5,885 985,920 990,935" fill="none" stroke="#8a8a8a" stroke-width="1.4" stroke-linejoin="round"/>
<polyline points="925,772.5 947.5,762.5 970,767.5 960,785 940,775 925,772.5" fill="none" stroke="#8a8a8a" stroke-width="1.4" stroke-linejoin="round"/>
<polyline points="1316.7,810 1320,843.3 1283.3,853.3 1280,876.7" fill="none" stroke="#8a8a8a" stroke-width="1.4" stroke-linejoin="round"/>
<polyline points="1252.5,110 1257.5,145 1266.25,150 1271.25,185 1285,190 1297.5,195 1307.5,205 1320,212.5 1325,228.75 1317.5,240 1317.5,247.5 1325,255 1321.25,270 1312.5,272.5 1322.5,285 1312.5,287.5 1305,277.5 1295,280 1287.5,292.5 1272.5,293.75 1272.5,317.5 1280,320 1302.5,315 1310,325 1315,342.5 1325,347.5 1317.5,357.5 1300,362.5 1282.5,377.5 1270,387.5 1252.5,390 1245,390 1250,400 1260,412.5 1265,425 1272.5,430 1275,445 1287.5,462.5 1280,480 1277.5,490 1292.5,500 1297.5,512.5 1297.5,527.5 1300,537.5 1312.5,537.5 1327.5,537.5 1335,550 1346.25,560 1335,565 1342.5,585 1343.75,627.5 1375,635 1382.5,617.5 1395,610 1405,620 1415,632.5 1425,617.5 1432.5,607.5 1440,600 1447.5,605 1475,605 1480,600 1477.5,617.5 1500,600 1522.5,605 1537.5,615 1560,612.5 1557.5,592.5 1547.5,587.5 1555,552.5 1565,545 1590,550 1610,555 1615,550 1637.5,552.5 1665,547.5 1680,570 1700,565" fill="none" stroke="#8a8a8a" stroke-width="1.4" stroke-linejoin="round"/>
<polyline points="1427.5,165 1442.5,155 1452.5,152.5 1462.5,160 1475,165 1480,160 1482.5,145 1490,135" fill="none" stroke="#8a8a8a" stroke-width="1.4" stroke-linejoin="round"/>
<polyline points="1427.5,165 1445,185 1450,192.5 1447.5,200 1470,210 1495,230 1525,222.5 1525,245 1532.5,250 1565,257.5 1562.5,272.5 1550,287.5 1532.5,295 1547.5,300 1545,315 1540,325 1557.5,325 1560,342.5 1550,357.5 1545,347.5 1522.5,350 1500,345 1485,352.5 1477.5,362.5 1455,367.5 1447.5,375 1412.5,375 1410,390 1407.5,400" fill="none" stroke="#8a8a8a" stroke-width="1.4" stroke-linejoin="round"/>
<polyline points="1447.5,380 1445,417.5 1455,435 1465,460 1482.5,457.5 1510,460 1510,480 1505,495 1532.5,505 1562.5,502.5 1600,505 1612.5,507.5 1617.5,517.5 1622.5,530 1615,550" fill="none" stroke="#8a8a8a" stroke-width="1.4" stroke-linejoin="round"/>
<polyline points="1540,325 1557.5,322.5 1575,317.5 1600,315 1617.5,320 1640,322.5 1647.5,337.5 1670,332.5 1665,315 1670,305 1667.5,300" fill="none" stroke="#8a8a8a" stroke-width="1.4" stroke-linejoin="round"/>
<polyline points="1317.5,342.5 1335,352.5 1340,375 1352.5,385 1365,390 1380,385 1400,395 1407.5,375" fill="none" stroke="#8a8a8a" stroke-width="1.4" stroke-linejoin="round"/>
<polyline points="1562.5,502.5 1575,475 1590,457.5 1605,455 1647.5,452.5 1642.5,440 1652.5,432.5 1672.5,433.75 1695,422.5 1700,405" fill="none" stroke="#8a8a8a" stroke-width="1.4" stroke-linejoin="round"/>
<polyline points="1150,452.5 1182.5,442.5 1187.5,455 1202.5,467.5 1222.5,480 1220,455 1217.5,442.5 1207.5,442.5 1225,425 1220,410 1235,397.5 1245,387.5" fill="none" stroke="#8a8a8a" stroke-width="1.4" stroke-linejoin="round"/>
<polyline points="1222.5,480 1200,500 1202.5,515 1215,520 1210,537.5 1185,535 1170,550 1182.5,560 1200,572.5 1210,595 1227.5,605 1247.5,607.5 1255,620 1250,632.5 1275,637.5 1290,630 1305,630 1320,627.5 1343.75,627.5" fill="none" stroke="#8a8a8a" stroke-width="1.4" stroke-linejoin="round"/>
<polyline points="1432.5,607.5 1450,630 1452.5,645 1447.5,655 1455,662.5 1442.5,670 1445,690 1460,697.5 1482.5,702.5 1500,710 1517.5,685 1535,700 1542.5,717.5 1535,725 1540,740 1557.5,752.5" fill="none" stroke="#8a8a8a" stroke-width="1.4" stroke-linejoin="round"/>
<polyline points="1445,690 1420,720 1400,722.5 1375,735 1370,755" fill="none" stroke="#8a8a8a" stroke-width="1.4" stroke-linejoin="round"/>
<polyline points="1800,295 1795,305 1800,325 1782.5,340 1775,350 1772.5,367.5 1770,380 1750,380 1742.5,387.5 1737.5,390 1740,405 1750,415 1760,422.5 1770,435 1782.5,425 1795,427.5 1810,437.5 1840,432.5 1850,435 1870,447.5 1862.5,457.5 1895,470 1910,462.5 1915,457.5 1930,452.5 1945,437.5 1960,452.5 1975,445 1977.5,437.5 1985,447.5 2000,445 2010,437.5 2010,422.5 2030,412.5 2035,400 2035,390" fill="none" stroke="#8a8a8a" stroke-width="1.4" stroke-linejoin="round"/>
<polyline points="1737.5,390 1725,392.5 1715,385 1702.5,387.5 1705,402.5 1692.5,405 1690,415 1682.5,412.5 1680,420 1695,425 1672.5,432.5 1650,427.5 1652.5,437.5 1645,440 1647.5,452.5 1620,455" fill="none" stroke="#8a8a8a" stroke-width="1.4" stroke-linejoin="round"/>
<polyline points="1620,320 1635,322.5 1665,302.5 1670,335 1657.5,340" fill="none" stroke="#8a8a8a" stroke-width="1.4" stroke-linejoin="round"/>
<polyline points="1317.5,807.5 1312.5,785 1310,767.5 1312.5,760 1332.5,755 1350,745 1375,737.5 1390,722.5 1410,720 1425,715 1440,700 1447.5,692.5 1440,670 1450,662.5 1455,650 1447.5,640 1450,620" fill="none" stroke="#8a8a8a" stroke-width="1.4" stroke-linejoin="round"/>
<polyline points="1317.5,807.5 1302.5,820 1317.5,852.5 1287.5,862.5 1280,877.5 1275,882.5" fill="none" stroke="#8a8a8a" stroke-width="1.4" stroke-linejoin="round"/>
<polyline points="1447.5,692.5 1467.5,695 1487.5,702.5 1497.5,712.5 1510,707.5 1512.5,687.5 1522.5,690 1537.5,702.5 1540,715 1535,727.5 1540,742.5 1557.5,750 1567.5,757.5 1562.5,772.5 1580,767.5 1592.5,785 1605,775" fill="none" stroke="#8a8a8a" stroke-width="1.4" stroke-linejoin="round"/>
<polyline points="1562.5,772.5 1525,790 1500,795 1462.5,817.5 1475,820 1462.5,845 1475,862.5 1470,875 1450,885 1437.5,895 1415,897.5 1392.5,892.5 1392.5,910 1391.25,937.5 1412.5,935 1412.5,942.5 1397.5,947.5 1395,957.5 1405,967.5 1415,975 1422.5,982.5 1423.75,990 1420,997.5 1422.5,1010 1427.5,1020 1425,1027.5" fill="none" stroke="#8a8a8a" stroke-width="1.4" stroke-linejoin="round"/>
<polyline points="1612.5,892.5 1630,905 1645,960 1640,980 1650,990 1670,1000 1685,1025 1687.5,1047.5" fill="none" stroke="#8a8a8a" stroke-width="1.4" stroke-linejoin="round"/>
<polyline points="2057.5,955 2035,960 2022.5,952.5 2020,960 1997.5,967.5 1997.5,977.5 1987.5,982.5 1975,980 1950,985 1920,980 1900,992.5 1910,1015 1915,1037.5 1897.5,1040 1875,1055 1857.5,1060 1845,1030 1842.5,1025 1830,1030 1822.5,1025 1805,1037.5 1792.5,1037.5 1785,1025 1772.5,1025 1765,1030 1755,1022.5 1747.5,1010 1745,1030 1735,1030 1732.5,1012.5 1720,1000 1710,1007.5 1695,992.5 1685,1000 1672.5,1005 1650,987.5" fill="none" stroke="#8a8a8a" stroke-width="1.4" stroke-linejoin="round"/>
<polyline points="1867.5,1060 1862.5,1070 1867.5,1085 1860,1092.5 1862.5,1105 1865,1117.5 1860,1130 1862.5,1155 1875,1157.5 1875,1180" fill="none" stroke="#8a8a8a" stroke-width="1.4" stroke-linejoin="round"/>
<polyline points="1720,1135 1732.5,1155 1735,1177.5 1750,1170 1762.5,1162.5 1762.5,1117.5" fill="none" stroke="#8a8a8a" stroke-width="1.4" stroke-linejoin="round"/>
<polyline points="1545,1042.5 1557.5,1060 1547.5,1075" fill="none" stroke="#8a8a8a" stroke-width="1.4" stroke-linejoin="round"/>
<polyline points="1545,1042.5 1575,1070 1595,1055 1607.5,1065 1622.5,1045 1632.5,1047.5 1632.5,1032.5 1652.5,1010 1662.5,1012.5 1665,1022.5 1680,1020 1685,1047.5" fill="none" stroke="#8a8a8a" stroke-width="1.4" stroke-linejoin="round"/>
<polyline points="1120,508.3 1136.7,511.7 1146.7,510 1156.7,511.7 1168.3,548.3 1183.3,538.3 1185,533.3 1203.3,535.8 1210.8,540 1216.7,531.7 1215,516.7 1201.7,513.3 1200,500" fill="none" stroke="#8a8a8a" stroke-width="1.4" stroke-linejoin="round"/>
<polyline points="1168.3,548.3 1166.7,551.7 1171.7,550 1183.3,556.7 1180,560 1183.3,566.7 1193.3,573.3 1201.7,571.7 1210,590 1211.7,595 1225,605 1240,603.3 1253.3,608.3 1255,621.7 1246.7,633.3 1253.3,635 1275,640.8 1291.7,629.2 1303.3,636.7 1308.3,630 1320,635 1338.3,630 1343.3,628.3 1375,636.7 1376.7,625 1383.3,616.7 1388.3,610 1400,610" fill="none" stroke="#8a8a8a" stroke-width="1.4" stroke-linejoin="round"/>
<polyline points="1291.7,500 1298.3,516.7 1296.7,530 1301.7,538.3 1313.3,535.8 1326.7,537.5 1340,555 1346.7,560.8 1335,566.7 1341.7,586.7 1341.7,603.3 1343.3,628.3" fill="none" stroke="#8a8a8a" stroke-width="1.4" stroke-linejoin="round"/>
<polyline points="1171.7,550 1156.7,565 1146.7,568.3 1130,573.3 1115,590 1098.3,581.7 1091.7,566.7 1073.3,575 1070,566.7 1061.7,563.3" fill="none" stroke="#8a8a8a" stroke-width="1.4" stroke-linejoin="round"/>
<polyline points="1073.3,575 1081.7,580 1085,593.3 1101.7,600 1108.3,608.3 1118.3,618.3 1100,626.7 1093.3,635 1093.3,656.7 1106.7,668.3 1113.3,675 1103.3,675 1083.3,665 1055,658.3 1048.3,666.7 1033.3,680 1016.7,676.7 1000,683.3 982.5,701.25 968.75,695" fill="none" stroke="#8a8a8a" stroke-width="1.4" stroke-linejoin="round"/>
<polyline points="1100,643.3 1153.3,641.7 1158.3,651.7 1183.3,650 1190,658.3 1230,653.3 1238.3,646.7 1253.3,635" fill="none" stroke="#8a8a8a" stroke-width="1.4" stroke-linejoin="round"/>
<polyline points="1148.3,656.7 1155,670 1151.7,683.3 1160,691.7 1175,706.7 1178.3,716.7 1175,750" fill="none" stroke="#8a8a8a" stroke-width="1.4" stroke-linejoin="round"/>
<polyline points="1056.7,658.3 1056.7,676.7 1066.7,686.7 1066.7,700 1056.7,715 1056.7,720 1033.3,723.3 1036.7,731.7 1043.3,736.7 1000,730" fill="none" stroke="#8a8a8a" stroke-width="1.4" stroke-linejoin="round"/>
<polyline points="1081.7,665 1093.3,686.7 1108.3,693.3 1123.3,683.3 1151.7,683.3" fill="none" stroke="#8a8a8a" stroke-width="1.4" stroke-linejoin="round"/>
<polyline points="1010,601.7 1020,610 1031.7,611.7 1020,623.3 1015,633.3 1040,641.7 1050,651.7 1048.3,666.7" fill="none" stroke="#8a8a8a" stroke-width="1.4" stroke-linejoin="round"/>
<polyline points="1000,618.3 1005,623.3 1020,610" fill="none" stroke="#8a8a8a" stroke-width="1.4" stroke-linejoin="round"/>
<polyline points="1895,470 1876.7,500 1863.3,513.3 1846.7,536.7 1843.3,556.7 1833.3,566.7 1820,570 1815,580 1818.3,596.7 1833.3,600 1830,616.7 1846.7,626.7 1848.3,643.3 1855,653.3 1840,673.3 1800,733.3 1803.3,740 1798.3,753.3 1803.3,766.7 1800,780 1805,790 1790,793.3 1788.3,803.3 1800,813.3 1816.7,825 1803.3,833.3 1813.3,841.7 1833.3,848.3 1853.3,850 1853.3,860 1843.3,866.7 1838.3,883.3 1856.7,896.7 1870,923.3 1855,930 1860,943.3 1876.7,960 1870,970 1880,983.3 1886.7,1000" fill="none" stroke="#8a8a8a" stroke-width="1.4" stroke-linejoin="round"/>
<polyline points="1600,553.3 1633.3,550 1663.3,546.7 1680,570 1700,560 1720,563.3 1730,580 1736.7,616.7 1773.3,600 1793.3,590 1816.7,596.7" fill="none" stroke="#8a8a8a" stroke-width="1.4" stroke-linejoin="round"/>
<polyline points="1840,673.3 1866.7,686.7 1876.7,681.7 1893.3,680 1913.3,688.3 1955,691.7 1990,690 2003.3,703.3 1996.7,716.7 1993.3,743.3 2023.3,763.3 2016.7,793.3 2023.3,813.3 2003.3,833.3 2016.7,850 2033.3,866.7 2060,893.3 2070,923.3 2066.7,943.3 2056.7,956.7 2073.3,976.7 2100,980 2120,986.7 2133.3,973.3 2166.7,966.7 2180,970 2166.7,996.7 2175,1003" fill="none" stroke="#8a8a8a" stroke-width="1.4" stroke-linejoin="round"/>
<polyline points="1955,691.7 1953.3,673.3 1973.3,656.7 2003.3,651.7 2010,643.3 2013.3,651.7 2026.7,653.3 2038,662" fill="none" stroke="#8a8a8a" stroke-width="1.4" stroke-linejoin="round"/>
<polyline points="1600,776.7 1620,766.7 1640,773.3 1646.7,790 1663.3,793.3 1666.7,800 1686.7,773.3 1720,793.3 1750,795 1753.3,816.7 1760,823.3 1790,816.7 1793.3,810" fill="none" stroke="#8a8a8a" stroke-width="1.4" stroke-linejoin="round"/>
<polyline points="1613.3,893.3 1650,836.7 1666.7,836.7 1690,866.7 1716.7,846.7 1743.3,850 1753.3,873.3 1740,896.7 1723.3,913.3 1756.7,930 1760,946.7 1746.7,960 1726.7,956.7 1706.7,946.7 1696.7,933.3 1690,940 1690,956.7 1673.3,950 1680,986.7 1693.3,1000" fill="none" stroke="#8a8a8a" stroke-width="1.4" stroke-linejoin="round"/>
<polyline points="1600,506.7 1620,526.7 1613.3,546.7 1600,553.3" fill="none" stroke="#8a8a8a" stroke-width="1.4" stroke-linejoin="round"/>
<polygon points="648,219 646,234 644,245 644,257 645,268 649,280 655,295 667,313 693,340 720,363 735,380 740,393 760,408 778,415 793,420 794,430 798,445 803,460 808,480 815,505 820,523 819,540 825,555 840,570 865,583 888,585 898,600 908,613 925,621 945,623 965,618 990,610 1013,600 1035,573 1058,563 1090,540 1115,518 1130,500 1140,475 1143,450 1140,420 1138,395 1133,365 1130,338 1128,318 1126,290 1122,250 1120,207 1120,173 1137.5,167.5 1151.25,160 1151.25,150 1157.5,140 1175,122.5 1185,117.5 1192.5,122.5 1197.5,127.5 1202.5,118.75 1212.5,117.5 1216.25,125 1222.5,117.5 1228.75,108.75 1245,103.75 1252.5,110 1260,103.75 1275,95 1292.5,90 1300,88.75 1312.5,70 1320,63.75 1325,56.25 1342.5,55 1350,56.25 1353.75,60 1352.5,65 1357.5,75 1360,87.5 1370,93.75 1375,97.5 1377.5,90 1375,77.5 1370,72.5 1367.5,62.5 1372.5,55 1380,58.75 1387.5,67.5 1397.5,80 1412.5,83.75 1417.5,87.5 1420,96.25 1425,101.25 1435,103.75 1445,106.25 1462.5,112.5 1470,122.5 1475,132.5 1485,137.5 1495,132.5 1505,136.25 1510,145 1512.5,155 1520,161.25 1535,165 1547.5,167.5 1567.5,163.75 1582.5,167.5 1577.5,195 1575,207.5 1582.5,210 1597.5,215 1610,225 1622.5,230 1617.5,250 1632.5,257.5 1637.5,270 1645,285 1655,295 1667.5,300 1698,302 1708,328 1717,332 1723,330 1728,318 1732,325 1740,333 1743,312 1757,303 1770,293 1787,295 1798,290 1803,273 1817,268 1825,270 1828,280 1840,280 1850,283 1857,292 1873,300 1893,304 1913,307 1927,313 1938,320 1947,312 1957,315 1977,308 1993,308 1997,322 1992,347 1987,365 1997,367 2010,372 2027,378 2033,390 2047,395 2062,410 2070,413 2082,422 2087,450 2080,473 2077,500 2060,513 2050,527 2062,533 2055,547 2052,573 2065,575 2060,600 2057,617 2047,622 2042,647 2040,660 2052,652 2070,643 2083,640 2090,635 2100,635 2108,663 2120,658 2125,655 2128,665 2120,673 2118,687 2110,697 2117,707 2130,720 2143,733 2147,753 2157,778 2180,780 2182,797 2170,803 2173,817 2187,830 2200,843 2202,867 2195,880 2207,900 2218,930 2207,963 2203,983 2190,993 2183,1000 2160,1010 2140,1038 2115,1060 2100,1075 2090,1100 2070,1115 2060,1135 2060,1183 2050,1190 2005,1190 1985,1185 1965,1193 1950,1190 1940,1173 1923,1165 1910,1175 1890,1175 1873,1185 1860,1200 1853,1225 1850,1235 1830,1248 1823,1255 1805,1245 1785,1245 1780,1255 1765,1258 1740,1255 1730,1250 1710,1245 1700,1230 1688,1228 1675,1215 1665,1195 1655,1170 1640,1160 1630,1155 1620,1145 1610,1125 1590,1113 1570,1103 1555,1098 1545,1078 1520,1065 1505,1060 1500,1030 1480,1033 1465,1023 1440,1028 1420,1025 1400,1030 1385,1020 1365,1015 1345,1013 1330,1000 1327,983 1317,960 1303,943 1297,923 1287,903 1283,890 1280,883 1273,887 1263,897 1250,900 1227,905 1210,917 1193,940 1190,962 1173,967 1157,977 1130,970 1113,967 1100,968 1080,980 1063,980 1047,967 1033,945 1007,940 990,937 967,943 963,927 940,933 913,937 900,940 880,933 860,917 833,915 800,927 783,950 770,945 757,940 753,917 747,900 733,898 727,915 707,920 687,920 670,922 660,927 647,917 633,912 617,907 600,903 580,902 567,903 550,898 533,898 527,888 507,885 490,887 473,888 467,900 463,907 447,913 433,917 423,913 410,923 397,932 390,938 373,937 360,933 347,937 328,947 320,957 300,973 277,980 263,1000 257,1013 252,1020 247,1037 240,1047 230,1053 202,1056 192,1027 187,1000 185,973 183,943 182,917 182,893 185,867 188,843 192,817 198,793 205,767 210,740 213,707 213,687 217,667 227,657 250,643 270,630 287,613 300,600 308,583 315,567 320,550 322,527 318,500 320,473 323,450 333,430 350,407 367,383 380,367 393,347 400,320 410,303 447,293 487,290 540,267 593,240 640,220" fill="none" stroke="#808080" stroke-width="3" stroke-linejoin="round"/>
<g><circle cx="241.6" cy="152.7" r="57.8" fill="#174a87"/><path d="M215.00 152.70 A26.60 26.60 0 0 1 241.60 126.10" fill="none" stroke="#fff" stroke-width="1.6" stroke-dasharray="2.6 3.0"/><polyline points="241.60,126.10 242.30,125.83 243.02,125.61 243.74,125.46 244.47,125.39 245.19,125.44 245.90,125.58 246.58,125.83 247.24,126.16 247.87,126.56 248.48,127.01 249.08,127.46 249.66,127.91 250.24,128.31 250.83,128.67 251.43,128.96 252.07,129.18 252.74,129.35 253.44,129.47 254.16,129.57 254.90,129.66 255.64,129.78 256.38,129.95 257.08,130.18 257.74,130.49 258.34,130.88 258.88,131.36 259.35,131.92 259.75,132.54 260.10,133.20 260.41,133.89 260.69,134.58 260.97,135.26 261.27,135.90 261.61,136.50 261.99,137.05 262.43,137.57 262.92,138.05 263.46,138.50 264.04,138.95 264.64,139.40 265.22,139.87 265.77,140.38 266.27,140.93 266.68,141.53 267.01,142.18 267.23,142.86 267.36,143.58 267.40,144.32 267.37,145.07 267.29,145.82 267.19,146.56 267.10,147.28 267.04,147.99 267.03,148.67 267.08,149.35 267.20,150.01 267.39,150.67 267.64,151.34 267.91,152.01 268.20,152.70 268.19,153.40 268.16,154.09 268.12,154.79 268.05,155.48 267.97,156.17 267.87,156.86 267.75,157.55 267.62,158.23 267.47,158.91 267.29,159.58 267.10,160.25 266.90,160.92 266.67,161.58 266.43,162.23 266.18,162.88 265.90,163.52 265.61,164.15 265.30,164.78 264.98,165.39 264.64,166.00 264.28,166.60 263.91,167.19 263.52,167.77 263.12,168.34 262.70,168.89 262.27,169.44 261.83,169.98 261.37,170.50 260.89,171.01 260.41,171.51 259.91,171.99 259.40,172.47 258.88,172.93 258.34,173.37 257.79,173.80 257.24,174.22 256.67,174.62 256.09,175.01 255.50,175.38 254.90,175.74 254.29,176.08 253.68,176.40 253.05,176.71 252.42,177.00 251.78,177.28 251.13,177.53 250.48,177.77 249.82,178.00 249.15,178.20 248.48,178.39 247.81,178.57 247.13,178.72 246.45,178.85 245.76,178.97 245.07,179.07 244.38,179.15 243.69,179.22 242.99,179.26 242.30,179.29 241.60,179.30 240.91,178.91 240.21,179.13 239.50,179.36 238.77,179.59 238.03,179.83 237.36,179.45 236.72,179.02 236.11,178.55 235.52,178.04 234.96,177.49 234.21,177.65 233.44,177.81 232.65,177.97 231.84,178.13 231.00,178.29 230.50,177.62 230.05,176.92 229.63,176.19 229.26,175.43 228.93,174.64 228.11,174.72 227.26,174.78 226.38,174.85 225.47,174.90 224.53,174.94 224.31,174.06 224.13,173.15 224.01,172.24 223.94,171.31 223.92,170.38 223.02,170.34 222.08,170.28 221.11,170.20 220.12,170.09 219.10,169.97 219.21,168.97 219.38,167.97 219.60,166.98 219.89,166.00 220.24,165.03 219.26,164.83 218.26,164.59 217.22,164.33 216.17,164.02 215.08,163.68 215.57,162.69 216.12,161.72 216.72,160.78 217.38,159.87 218.10,159.00 217.08,158.59 216.04,158.13 214.98,157.63 213.91,157.09 212.82,156.49 213.67,155.64 214.58,154.83 215.54,154.07 216.55,153.36 217.60,152.70" fill="none" stroke="#fff" stroke-width="1.6" stroke-linejoin="round"/><path d="M205.20 152.70 A36.40 36.40 0 0 1 241.60 116.30" fill="none" stroke="#fff" stroke-width="1.6" stroke-dasharray="2.6 3.0"/><polyline points="241.60,116.30 242.56,116.03 243.53,115.82 244.51,115.69 245.49,115.65 246.47,115.72 247.43,115.90 248.37,116.19 249.28,116.58 250.16,117.04 251.02,117.54 251.86,118.07 252.68,118.58 253.51,119.07 254.34,119.52 255.19,119.90 256.06,120.23 256.96,120.50 257.89,120.74 258.84,120.96 259.80,121.18 260.76,121.43 261.71,121.73 262.63,122.10 263.50,122.56 264.31,123.11 265.05,123.75 265.71,124.47 266.31,125.26 266.85,126.09 267.34,126.96 267.80,127.84 268.26,128.70 268.73,129.53 269.22,130.33 269.76,131.09 270.36,131.81 271.00,132.50 271.68,133.16 272.40,133.83 273.12,134.50 273.83,135.20 274.50,135.93 275.11,136.72 275.64,137.55 276.06,138.43 276.38,139.35 276.60,140.31 276.72,141.29 276.77,142.28 276.76,143.28 276.72,144.27 276.69,145.24 276.67,146.20 276.71,147.14 276.80,148.07 276.95,148.98 277.16,149.90 277.42,150.82 277.71,151.75 278.00,152.70 277.99,153.65 277.95,154.61 277.89,155.56 277.80,156.50 277.69,157.45 277.55,158.39 277.39,159.33 277.20,160.27 276.99,161.20 276.76,162.12 276.50,163.04 276.22,163.95 275.91,164.85 275.58,165.74 275.23,166.63 274.85,167.51 274.45,168.37 274.03,169.23 273.59,170.07 273.12,170.90 272.64,171.72 272.13,172.52 271.60,173.32 271.05,174.10 270.48,174.86 269.89,175.61 269.28,176.34 268.65,177.06 268.00,177.76 267.34,178.44 266.66,179.10 265.96,179.75 265.24,180.38 264.51,180.99 263.76,181.58 263.00,182.15 262.22,182.70 261.42,183.23 260.62,183.74 259.80,184.22 258.97,184.69 258.13,185.13 257.27,185.55 256.41,185.95 255.53,186.33 254.64,186.68 253.75,187.01 252.85,187.32 251.94,187.60 251.02,187.86 250.10,188.09 249.17,188.30 248.23,188.49 247.29,188.65 246.35,188.79 245.40,188.90 244.46,188.99 243.51,189.05 242.55,189.09 241.60,189.10 240.66,188.71 239.70,188.92 238.73,189.13 237.75,189.34 236.75,189.55 235.83,189.13 234.94,188.65 234.07,188.14 233.23,187.57 232.42,186.96 231.43,187.04 230.41,187.13 229.38,187.21 228.33,187.28 227.25,187.35 226.52,186.57 225.83,185.76 225.18,184.92 224.58,184.04 224.03,183.13 222.99,183.07 221.92,183.00 220.83,182.92 219.71,182.83 218.57,182.72 218.14,181.67 217.77,180.61 217.45,179.52 217.19,178.42 216.99,177.31 215.91,177.08 214.80,176.83 213.66,176.56 212.50,176.26 211.32,175.93 211.28,174.73 211.30,173.52 211.39,172.32 211.54,171.12 211.75,169.93 210.65,169.51 209.52,169.04 208.38,168.55 207.21,168.01 206.03,167.43 206.42,166.20 206.88,165.00 207.40,163.81 207.98,162.66 208.63,161.53 207.55,160.88 206.45,160.17 205.34,159.42 204.23,158.62 203.10,157.77 203.93,156.66 204.81,155.60 205.76,154.58 206.75,153.61 207.80,152.70" fill="none" stroke="#fff" stroke-width="1.6" stroke-linejoin="round"/><path d="M195.90 152.70 A45.70 45.70 0 0 1 241.60 107.00" fill="none" stroke="#fff" stroke-width="1.6" stroke-dasharray="2.6 3.0"/><polyline points="241.60,107.00 242.80,106.74 244.02,106.53 245.24,106.42 246.47,106.40 247.68,106.50 248.88,106.72 250.06,107.05 251.21,107.48 252.33,107.99 253.43,108.56 254.50,109.15 255.56,109.74 256.61,110.31 257.67,110.83 258.74,111.31 259.84,111.73 260.96,112.11 262.11,112.45 263.27,112.78 264.45,113.12 265.62,113.50 266.78,113.93 267.90,114.44 268.96,115.04 269.97,115.73 270.90,116.52 271.75,117.40 272.53,118.35 273.25,119.35 273.91,120.39 274.55,121.43 275.17,122.47 275.80,123.49 276.45,124.48 277.14,125.43 277.88,126.34 278.66,127.23 279.48,128.10 280.33,128.97 281.18,129.85 282.01,130.76 282.79,131.71 283.51,132.71 284.13,133.76 284.65,134.87 285.06,136.02 285.37,137.20 285.57,138.41 285.68,139.64 285.74,140.87 285.77,142.10 285.78,143.31 285.82,144.50 285.89,145.68 286.02,146.85 286.20,148.01 286.43,149.17 286.71,150.34 287.01,151.51 287.30,152.70 287.28,153.90 287.24,155.09 287.16,156.29 287.05,157.48 286.91,158.67 286.74,159.85 286.53,161.03 286.30,162.20 286.04,163.37 285.74,164.53 285.42,165.68 285.06,166.82 284.68,167.95 284.26,169.08 283.82,170.19 283.35,171.29 282.85,172.37 282.32,173.45 281.76,174.51 281.18,175.55 280.57,176.58 279.93,177.59 279.26,178.58 278.57,179.56 277.86,180.52 277.12,181.46 276.35,182.38 275.56,183.28 274.75,184.16 273.91,185.01 273.06,185.85 272.18,186.66 271.28,187.45 270.36,188.22 269.42,188.96 268.46,189.67 267.48,190.36 266.49,191.03 265.48,191.67 264.45,192.28 263.41,192.86 262.35,193.42 261.27,193.95 260.19,194.45 259.09,194.92 257.98,195.36 256.85,195.78 255.72,196.16 254.58,196.52 253.43,196.84 252.27,197.14 251.10,197.40 249.93,197.63 248.75,197.84 247.57,198.01 246.38,198.15 245.19,198.26 243.99,198.34 242.80,198.38 241.60,198.40 240.41,198.00 239.22,198.20 238.00,198.40 236.78,198.59 235.53,198.77 234.38,198.31 233.24,197.80 232.13,197.23 231.06,196.61 230.01,195.94 228.79,195.96 227.54,195.97 226.28,195.97 224.99,195.96 223.69,195.94 222.74,195.07 221.83,194.16 220.96,193.21 220.15,192.21 219.38,191.18 218.13,191.00 216.86,190.80 215.56,190.59 214.24,190.35 212.91,190.09 212.29,188.90 211.73,187.68 211.23,186.43 210.79,185.17 210.42,183.88 209.16,183.48 207.89,183.06 206.59,182.60 205.28,182.11 203.94,181.60 203.75,180.20 203.64,178.79 203.59,177.39 203.61,175.98 203.70,174.58 202.48,173.94 201.24,173.27 199.98,172.55 198.72,171.79 197.44,170.99 197.74,169.54 198.11,168.10 198.56,166.69 199.07,165.30 199.65,163.94 198.50,163.05 197.36,162.10 196.20,161.11 195.04,160.07 193.88,158.98 194.68,157.63 195.54,156.32 196.47,155.07 197.46,153.86 198.50,152.70" fill="none" stroke="#fff" stroke-width="1.6" stroke-linejoin="round"/><path fill="#58595b" stroke="#58595b" stroke-width="0.6" stroke-linejoin="round" d="M315.2 126.3 L320.0 126.5 L323.8 128.4 L324.9 130.6 L324.9 172.8 L347.0 172.3 L349.8 173.4 L348.8 177.2 L346.0 180.0 L321.7 180.2 L316.3 178.3 L315.2 175.0 Z M342.8 126.3 L349.8 126.3 L354.2 130.0 L356.3 134.4 L368.8 166.9 L380.7 135.5 L383.4 129.5 L388.8 126.3 L394.8 126.3 L382.3 152.3 L375.8 168.5 L368.8 181.0 L361.8 172.8 L353.1 155.5 Z M439.8 136.0 L435.4 130.6 L427.8 127.3 L418.6 126.3 L407.3 127.3 L399.7 131.7 L397.0 142.5 L397.0 164.2 L399.7 173.9 L407.3 179.3 L419.2 181.0 L430.0 179.3 L437.6 173.9 L441.4 164.2 L441.4 152.8 L417.5 152.3 L417.0 155.5 L418.6 159.3 L431.1 159.8 L431.1 164.2 L428.9 169.6 L424.6 172.3 L419.2 172.8 L412.7 172.3 L408.3 169.0 L406.7 160.9 L406.7 143.6 L408.3 136.0 L413.7 133.8 L420.3 133.8 L428.9 135.5 L435.4 139.3 L437.6 142.0 Z M413.8 182.6 L424.6 183.7 L425.1 188.0 L422.4 193.4 L418.1 196.1 L413.8 195.6 L417.0 192.3 L415.9 185.8 Z M450.0 126.3 L456.0 126.3 L462.5 130.6 L475.5 156.0 L488.5 130.6 L494.0 126.8 L501.0 126.3 L501.0 179.9 L494.0 179.9 L491.2 176.1 L491.2 143.6 L478.8 167.4 L475.5 169.6 L472.3 167.4 L459.8 143.6 L459.8 179.9 L453.8 179.9 L450.0 176.1 Z M550.3 142.0 L551.9 136.0 L544.9 129.5 L532.9 126.3 L518.8 127.3 L512.3 131.7 L509.1 142.5 L509.1 164.2 L512.3 175.0 L519.9 179.9 L532.9 181.0 L544.9 178.3 L551.9 170.7 L550.3 165.3 L543.8 170.7 L532.9 172.8 L525.4 172.3 L519.9 168.5 L518.3 160.9 L518.3 143.6 L519.9 136.0 L525.4 133.8 L532.9 133.8 L543.8 136.0 Z"/></g>
<circle cx="648.6" cy="223.4" r="9.8" fill="#000"/>
<text x="600.8" y="202.0" font-size="40.5" font-weight="normal" textLength="93.4" lengthAdjust="spacingAndGlyphs">Kolka</text>
<text x="608.4" y="272.0" font-size="39" font-weight="normal" textLength="79.8" lengthAdjust="spacingAndGlyphs">−3,5</text>
<circle cx="358.6" cy="392.5" r="9.8" fill="#000"/>
<text x="277.7" y="371.1" font-size="40.5" font-weight="normal" textLength="162.7" lengthAdjust="spacingAndGlyphs">Ventspils</text>
<text x="318.4" y="441.1" font-size="39" font-weight="normal" textLength="79.2" lengthAdjust="spacingAndGlyphs">−5,1</text>
<circle cx="787.3" cy="434.4" r="9.8" fill="#000"/>
<text x="703.1" y="413.0" font-size="40.5" font-weight="normal" textLength="168.9" lengthAdjust="spacingAndGlyphs">Mērsrags</text>
<text x="748.0" y="483.0" font-size="39" font-weight="normal" textLength="78.8" lengthAdjust="spacingAndGlyphs">−3,7</text>
<circle cx="253.5" cy="644.5" r="9.8" fill="#000"/>
<text x="174.0" y="623.1" font-size="40.5" font-weight="normal" textLength="157.0" lengthAdjust="spacingAndGlyphs">Pāvilosta</text>
<text x="214.0" y="693.1" font-size="39" font-weight="normal" textLength="78.0" lengthAdjust="spacingAndGlyphs">−9,5</text>
<circle cx="197.5" cy="850.7" r="9.8" fill="#000"/>
<text x="133.2" y="829.3" font-size="40.5" font-weight="normal" textLength="126.6" lengthAdjust="spacingAndGlyphs">Liepāja</text>
<text x="158.3" y="899.3" font-size="39" font-weight="normal" textLength="78.8" lengthAdjust="spacingAndGlyphs">−5,4</text>
<circle cx="233.9" cy="1010.3" r="9.8" fill="#000"/>
<text x="169.6" y="988.9" font-size="40.5" font-weight="normal" textLength="125.9" lengthAdjust="spacingAndGlyphs">Rucava</text>
<text x="194.5" y="1058.9" font-size="39" font-weight="normal" textLength="78.8" lengthAdjust="spacingAndGlyphs">−7,0</text>
<circle cx="613.8" cy="763.3" r="9.8" fill="#000"/>
<text x="495.5" y="741.9" font-size="40.5" font-weight="normal" textLength="118.0" lengthAdjust="spacingAndGlyphs">Saldus</text>
<text x="534.1" y="811.9" font-size="39" font-weight="normal" textLength="80.4" lengthAdjust="spacingAndGlyphs">−8,6</text>
<circle cx="840.0" cy="795.0" r="9.8" fill="#000"/>
<text x="709.9" y="773.6" font-size="40.5" font-weight="normal" textLength="129.6" lengthAdjust="spacingAndGlyphs">Dobele</text>
<text x="761.9" y="843.6" font-size="39" font-weight="normal" textLength="77.6" lengthAdjust="spacingAndGlyphs">−4,9</text>
<circle cx="1019.2" cy="827.8" r="9.8" fill="#000"/>
<text x="889.6" y="806.4" font-size="40.5" font-weight="normal" textLength="126.8" lengthAdjust="spacingAndGlyphs">Jelgava</text>
<text x="940.4" y="876.4" font-size="39" font-weight="normal" textLength="78.5" lengthAdjust="spacingAndGlyphs">−5,3</text>
<circle cx="1091.2" cy="917.0" r="9.8" fill="#000"/>
<text x="1091.5" y="895.6" font-size="40.5" font-weight="normal" textLength="126.0" lengthAdjust="spacingAndGlyphs">Bauska</text>
<text x="1091.0" y="965.6" font-size="39" font-weight="normal" textLength="78.2" lengthAdjust="spacingAndGlyphs">−4,4</text>
<circle cx="1127.4" cy="166.1" r="9.8" fill="#000"/>
<text x="1074.0" y="144.7" font-size="40.5" font-weight="normal" textLength="108.7" lengthAdjust="spacingAndGlyphs">Ainaži</text>
<text x="1087.2" y="214.7" font-size="39" font-weight="normal" textLength="80.6" lengthAdjust="spacingAndGlyphs">−9,9</text>
<circle cx="1397.8" cy="153.0" r="9.8" fill="#000"/>
<text x="1328.3" y="131.6" font-size="40.5" font-weight="normal" textLength="134.9" lengthAdjust="spacingAndGlyphs">Rūjiena</text>
<text x="1358.3" y="201.6" font-size="39" font-weight="normal" textLength="78.9" lengthAdjust="spacingAndGlyphs">−9,7</text>
<circle cx="1141.7" cy="452.2" r="9.8" fill="#000"/>
<text x="1085.5" y="430.8" font-size="40.5" font-weight="normal" textLength="111.5" lengthAdjust="spacingAndGlyphs">Skulte</text>
<text x="1091.9" y="500.8" font-size="39" font-weight="normal" textLength="100.1" lengthAdjust="spacingAndGlyphs">−10,1</text>
<circle cx="1394.2" cy="441.3" r="9.8" fill="#000"/>
<text x="1327.0" y="419.9" font-size="40.5" font-weight="normal" textLength="134.6" lengthAdjust="spacingAndGlyphs">Priekuļi</text>
<text x="1355.1" y="489.9" font-size="39" font-weight="normal" textLength="77.3" lengthAdjust="spacingAndGlyphs">−8,7</text>
<circle cx="1551.7" cy="528.3" r="9.8" fill="#000"/>
<text x="1493.1" y="506.9" font-size="40.5" font-weight="normal" textLength="117.8" lengthAdjust="spacingAndGlyphs">Zosēni</text>
<text x="1501.9" y="576.9" font-size="39" font-weight="normal" textLength="100.1" lengthAdjust="spacingAndGlyphs">−12,7</text>
<circle cx="1854.6" cy="364.0" r="9.8" fill="#000"/>
<text x="1783.2" y="342.6" font-size="40.5" font-weight="normal" textLength="142.5" lengthAdjust="spacingAndGlyphs">Alūksne</text>
<text x="1814.1" y="412.6" font-size="39" font-weight="normal" textLength="80.4" lengthAdjust="spacingAndGlyphs">−8,5</text>
<circle cx="1774.7" cy="522.5" r="9.8" fill="#000"/>
<text x="1698.0" y="501.1" font-size="40.5" font-weight="normal" textLength="154.0" lengthAdjust="spacingAndGlyphs">Gulbene</text>
<text x="1735.5" y="571.1" font-size="39" font-weight="normal" textLength="79.4" lengthAdjust="spacingAndGlyphs">−8,0</text>
<circle cx="1342.8" cy="782.0" r="9.8" fill="#000"/>
<text x="1275.1" y="760.6" font-size="40.5" font-weight="normal" textLength="135.4" lengthAdjust="spacingAndGlyphs">Skrīveri</text>
<text x="1292.6" y="830.6" font-size="39" font-weight="normal" textLength="100.5" lengthAdjust="spacingAndGlyphs">−12,5</text>
<circle cx="1564.2" cy="838.7" r="9.8" fill="#000"/>
<text x="1515.1" y="817.3" font-size="40.5" font-weight="normal" textLength="97.9" lengthAdjust="spacingAndGlyphs">Zīlāni</text>
<text x="1525.1" y="887.3" font-size="39" font-weight="normal" textLength="78.0" lengthAdjust="spacingAndGlyphs">−8,8</text>
<circle cx="1965.8" cy="843.4" r="9.8" fill="#000"/>
<text x="1890.8" y="822.0" font-size="40.5" font-weight="normal" textLength="149.6" lengthAdjust="spacingAndGlyphs">Rēzekne</text>
<text x="1926.0" y="892.0" font-size="39" font-weight="normal" textLength="79.0" lengthAdjust="spacingAndGlyphs">−7,0</text>
<circle cx="1771.2" cy="1160.1" r="9.8" fill="#000"/>
<text x="1673.5" y="1138.7" font-size="40.5" font-weight="normal" textLength="195.3" lengthAdjust="spacingAndGlyphs">Daugavpils</text>
<text x="1732.8" y="1208.7" font-size="39" font-weight="normal" textLength="77.2" lengthAdjust="spacingAndGlyphs">−6,4</text>
<text x="350.4" y="1091.0" font-size="67" font-weight="normal" textLength="673.0" lengthAdjust="spacingAndGlyphs" stroke="#e4e4e4" stroke-width="1.3">2002. gada 21. oktobris</text>
<text x="350.1" y="1180.8" font-size="65.5" font-weight="bold" textLength="930.4" lengthAdjust="spacingAndGlyphs" stroke="#e4e4e4" stroke-width="0.8">Minimālā gaisa temperatūra, °C</text>
<defs><linearGradient id="cb" x1="0" x2="1" y1="0" y2="0"><stop offset="0.0000" stop-color="#4a3058"/><stop offset="0.0455" stop-color="#52365f"/><stop offset="0.0795" stop-color="#603d6e"/><stop offset="0.1136" stop-color="#8a4d8c"/><stop offset="0.1307" stop-color="#a05a9c"/><stop offset="0.1591" stop-color="#94589e"/><stop offset="0.1932" stop-color="#7d55a0"/><stop offset="0.2216" stop-color="#5258a0"/><stop offset="0.2841" stop-color="#5a78c4"/><stop offset="0.3386" stop-color="#3a8fdc"/><stop offset="0.3636" stop-color="#48a4e8"/><stop offset="0.3875" stop-color="#56b6f2"/><stop offset="0.4034" stop-color="#62c0f2"/><stop offset="0.4261" stop-color="#6ec8ee"/><stop offset="0.4432" stop-color="#7acfec"/><stop offset="0.4602" stop-color="#90d8e8"/><stop offset="0.4773" stop-color="#a5e0ee"/><stop offset="0.4977" stop-color="#c0eaf5"/><stop offset="0.5193" stop-color="#a5e2dc"/><stop offset="0.5432" stop-color="#7dd0c0"/><stop offset="0.6091" stop-color="#6aaf6a"/><stop offset="0.6523" stop-color="#a0c870"/><stop offset="0.7045" stop-color="#f3ec64"/><stop offset="0.7500" stop-color="#f0b454"/><stop offset="0.8375" stop-color="#e0604a"/><stop offset="0.8784" stop-color="#c03a42"/><stop offset="0.9341" stop-color="#983030"/><stop offset="1.0000" stop-color="#7e2c30"/></linearGradient></defs>
<rect x="240" y="1373" width="1920" height="30" fill="url(#cb)" stroke="#000" stroke-width="2.2"/>
<text x="265.0" y="1459.6" font-size="50" font-weight="normal" textLength="123.0" lengthAdjust="spacingAndGlyphs">−40,0</text>
<text x="482.0" y="1459.6" font-size="50" font-weight="normal" textLength="124.0" lengthAdjust="spacingAndGlyphs">−30,0</text>
<text x="700.0" y="1459.6" font-size="50" font-weight="normal" textLength="125.0" lengthAdjust="spacingAndGlyphs">−20,0</text>
<text x="917.0" y="1459.6" font-size="50" font-weight="normal" textLength="127.0" lengthAdjust="spacingAndGlyphs">−10,0</text>
<text x="1164.0" y="1459.6" font-size="50" font-weight="normal" textLength="71.0" lengthAdjust="spacingAndGlyphs">0,0</text>
<text x="1355.0" y="1459.6" font-size="50" font-weight="normal" textLength="124.0" lengthAdjust="spacingAndGlyphs">+10,0</text>
<text x="1573.0" y="1459.6" font-size="50" font-weight="normal" textLength="124.0" lengthAdjust="spacingAndGlyphs">+20,0</text>
<text x="1791.0" y="1459.6" font-size="50" font-weight="normal" textLength="124.0" lengthAdjust="spacingAndGlyphs">+30,0</text>
<text x="2011.0" y="1459.6" font-size="50" font-weight="normal" textLength="123.5" lengthAdjust="spacingAndGlyphs">+40,0</text>
</svg></body></html>
